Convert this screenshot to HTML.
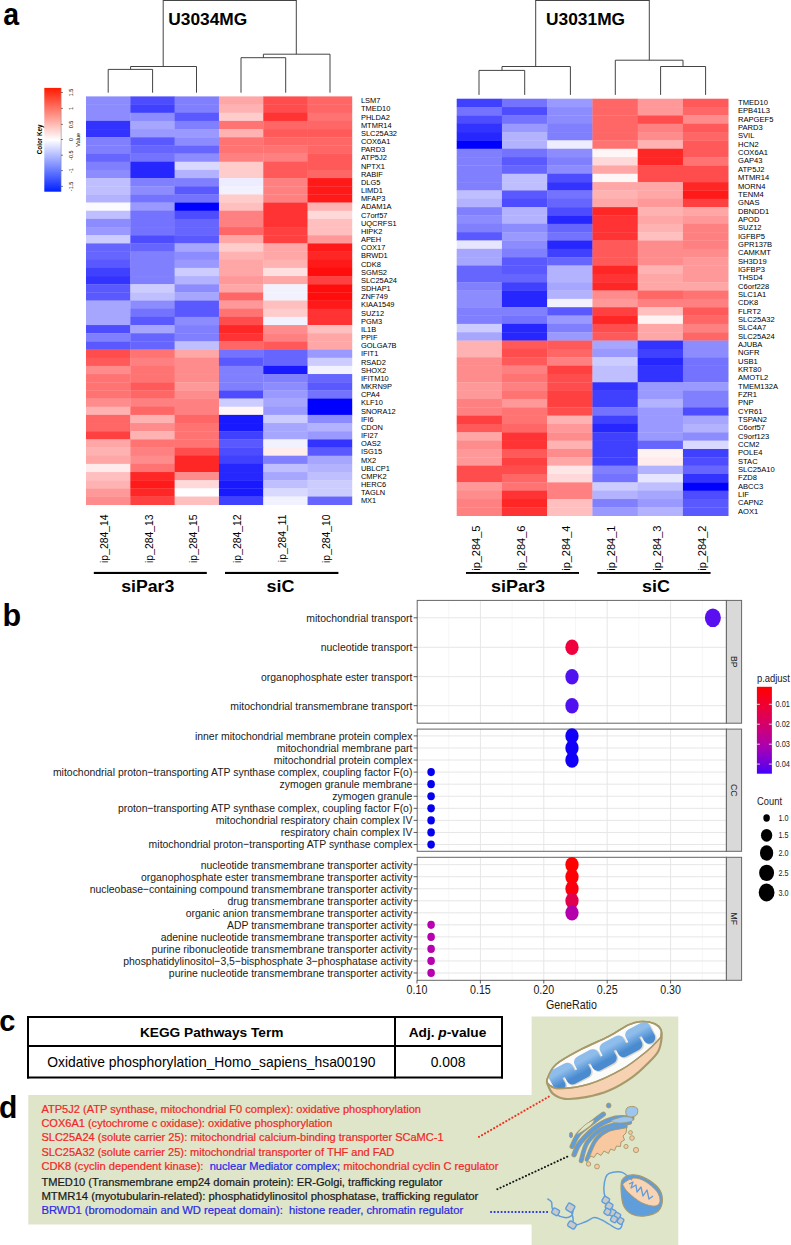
<!DOCTYPE html>
<html><head><meta charset="utf-8"><style>
html,body{margin:0;padding:0;background:#fff;width:791px;height:1245px;overflow:hidden}
svg{display:block}
text{font-family:"Liberation Sans",sans-serif}
</style></head><body>
<svg width="791" height="1245" viewBox="0 0 791 1245" font-family="Liberation Sans, sans-serif">
<text x="0" y="0" transform="translate(3.2,25) scale(0.92,1)" font-size="31" font-weight="bold">a</text>
<rect x="86.00" y="96.40" width="44.62" height="8.47" fill="rgb(140,140,255)"/>
<rect x="130.32" y="96.40" width="44.62" height="8.47" fill="rgb(77,77,255)"/>
<rect x="174.63" y="96.40" width="44.62" height="8.47" fill="rgb(128,128,255)"/>
<rect x="218.95" y="96.40" width="44.62" height="8.47" fill="rgb(255,166,166)"/>
<rect x="263.27" y="96.40" width="44.62" height="8.47" fill="rgb(255,77,77)"/>
<rect x="307.58" y="96.40" width="44.62" height="8.47" fill="rgb(255,102,102)"/>
<rect x="86.00" y="104.57" width="44.62" height="8.47" fill="rgb(140,140,255)"/>
<rect x="130.32" y="104.57" width="44.62" height="8.47" fill="rgb(64,64,255)"/>
<rect x="174.63" y="104.57" width="44.62" height="8.47" fill="rgb(128,128,255)"/>
<rect x="218.95" y="104.57" width="44.62" height="8.47" fill="rgb(255,178,178)"/>
<rect x="263.27" y="104.57" width="44.62" height="8.47" fill="rgb(255,77,77)"/>
<rect x="307.58" y="104.57" width="44.62" height="8.47" fill="rgb(255,102,102)"/>
<rect x="86.00" y="112.73" width="44.62" height="8.47" fill="rgb(140,140,255)"/>
<rect x="130.32" y="112.73" width="44.62" height="8.47" fill="rgb(140,140,255)"/>
<rect x="174.63" y="112.73" width="44.62" height="8.47" fill="rgb(89,89,255)"/>
<rect x="218.95" y="112.73" width="44.62" height="8.47" fill="rgb(255,204,204)"/>
<rect x="263.27" y="112.73" width="44.62" height="8.47" fill="rgb(255,51,51)"/>
<rect x="307.58" y="112.73" width="44.62" height="8.47" fill="rgb(255,115,115)"/>
<rect x="86.00" y="120.90" width="44.62" height="8.47" fill="rgb(51,51,255)"/>
<rect x="130.32" y="120.90" width="44.62" height="8.47" fill="rgb(166,166,255)"/>
<rect x="174.63" y="120.90" width="44.62" height="8.47" fill="rgb(128,128,255)"/>
<rect x="218.95" y="120.90" width="44.62" height="8.47" fill="rgb(255,115,115)"/>
<rect x="263.27" y="120.90" width="44.62" height="8.47" fill="rgb(255,102,102)"/>
<rect x="307.58" y="120.90" width="44.62" height="8.47" fill="rgb(255,102,102)"/>
<rect x="86.00" y="129.06" width="44.62" height="8.47" fill="rgb(51,51,255)"/>
<rect x="130.32" y="129.06" width="44.62" height="8.47" fill="rgb(153,153,255)"/>
<rect x="174.63" y="129.06" width="44.62" height="8.47" fill="rgb(153,153,255)"/>
<rect x="218.95" y="129.06" width="44.62" height="8.47" fill="rgb(255,178,178)"/>
<rect x="263.27" y="129.06" width="44.62" height="8.47" fill="rgb(255,89,89)"/>
<rect x="307.58" y="129.06" width="44.62" height="8.47" fill="rgb(255,89,89)"/>
<rect x="86.00" y="137.23" width="44.62" height="8.47" fill="rgb(128,128,255)"/>
<rect x="130.32" y="137.23" width="44.62" height="8.47" fill="rgb(89,89,255)"/>
<rect x="174.63" y="137.23" width="44.62" height="8.47" fill="rgb(140,140,255)"/>
<rect x="218.95" y="137.23" width="44.62" height="8.47" fill="rgb(255,115,115)"/>
<rect x="263.27" y="137.23" width="44.62" height="8.47" fill="rgb(255,102,102)"/>
<rect x="307.58" y="137.23" width="44.62" height="8.47" fill="rgb(255,102,102)"/>
<rect x="86.00" y="145.40" width="44.62" height="8.47" fill="rgb(128,128,255)"/>
<rect x="130.32" y="145.40" width="44.62" height="8.47" fill="rgb(102,102,255)"/>
<rect x="174.63" y="145.40" width="44.62" height="8.47" fill="rgb(102,102,255)"/>
<rect x="218.95" y="145.40" width="44.62" height="8.47" fill="rgb(255,115,115)"/>
<rect x="263.27" y="145.40" width="44.62" height="8.47" fill="rgb(255,115,115)"/>
<rect x="307.58" y="145.40" width="44.62" height="8.47" fill="rgb(255,102,102)"/>
<rect x="86.00" y="153.56" width="44.62" height="8.47" fill="rgb(102,102,255)"/>
<rect x="130.32" y="153.56" width="44.62" height="8.47" fill="rgb(115,115,255)"/>
<rect x="174.63" y="153.56" width="44.62" height="8.47" fill="rgb(140,140,255)"/>
<rect x="218.95" y="153.56" width="44.62" height="8.47" fill="rgb(255,128,128)"/>
<rect x="263.27" y="153.56" width="44.62" height="8.47" fill="rgb(255,128,128)"/>
<rect x="307.58" y="153.56" width="44.62" height="8.47" fill="rgb(255,89,89)"/>
<rect x="86.00" y="161.73" width="44.62" height="8.47" fill="rgb(128,128,255)"/>
<rect x="130.32" y="161.73" width="44.62" height="8.47" fill="rgb(38,38,255)"/>
<rect x="174.63" y="161.73" width="44.62" height="8.47" fill="rgb(217,217,255)"/>
<rect x="218.95" y="161.73" width="44.62" height="8.47" fill="rgb(255,204,204)"/>
<rect x="263.27" y="161.73" width="44.62" height="8.47" fill="rgb(255,89,89)"/>
<rect x="307.58" y="161.73" width="44.62" height="8.47" fill="rgb(255,89,89)"/>
<rect x="86.00" y="169.89" width="44.62" height="8.47" fill="rgb(140,140,255)"/>
<rect x="130.32" y="169.89" width="44.62" height="8.47" fill="rgb(38,38,255)"/>
<rect x="174.63" y="169.89" width="44.62" height="8.47" fill="rgb(178,178,255)"/>
<rect x="218.95" y="169.89" width="44.62" height="8.47" fill="rgb(255,204,204)"/>
<rect x="263.27" y="169.89" width="44.62" height="8.47" fill="rgb(255,89,89)"/>
<rect x="307.58" y="169.89" width="44.62" height="8.47" fill="rgb(255,102,102)"/>
<rect x="86.00" y="178.06" width="44.62" height="8.47" fill="rgb(191,191,255)"/>
<rect x="130.32" y="178.06" width="44.62" height="8.47" fill="rgb(128,128,255)"/>
<rect x="174.63" y="178.06" width="44.62" height="8.47" fill="rgb(128,128,255)"/>
<rect x="218.95" y="178.06" width="44.62" height="8.47" fill="rgb(237,237,255)"/>
<rect x="263.27" y="178.06" width="44.62" height="8.47" fill="rgb(255,128,128)"/>
<rect x="307.58" y="178.06" width="44.62" height="8.47" fill="rgb(255,25,25)"/>
<rect x="86.00" y="186.23" width="44.62" height="8.47" fill="rgb(191,191,255)"/>
<rect x="130.32" y="186.23" width="44.62" height="8.47" fill="rgb(140,140,255)"/>
<rect x="174.63" y="186.23" width="44.62" height="8.47" fill="rgb(89,89,255)"/>
<rect x="218.95" y="186.23" width="44.62" height="8.47" fill="rgb(242,242,255)"/>
<rect x="263.27" y="186.23" width="44.62" height="8.47" fill="rgb(255,128,128)"/>
<rect x="307.58" y="186.23" width="44.62" height="8.47" fill="rgb(255,25,25)"/>
<rect x="86.00" y="194.39" width="44.62" height="8.47" fill="rgb(178,178,255)"/>
<rect x="130.32" y="194.39" width="44.62" height="8.47" fill="rgb(115,115,255)"/>
<rect x="174.63" y="194.39" width="44.62" height="8.47" fill="rgb(115,115,255)"/>
<rect x="218.95" y="194.39" width="44.62" height="8.47" fill="rgb(255,204,204)"/>
<rect x="263.27" y="194.39" width="44.62" height="8.47" fill="rgb(255,128,128)"/>
<rect x="307.58" y="194.39" width="44.62" height="8.47" fill="rgb(255,25,25)"/>
<rect x="86.00" y="202.56" width="44.62" height="8.47" fill="rgb(250,250,255)"/>
<rect x="130.32" y="202.56" width="44.62" height="8.47" fill="rgb(153,153,255)"/>
<rect x="174.63" y="202.56" width="44.62" height="8.47" fill="rgb(0,0,255)"/>
<rect x="218.95" y="202.56" width="44.62" height="8.47" fill="rgb(255,191,191)"/>
<rect x="263.27" y="202.56" width="44.62" height="8.47" fill="rgb(255,51,51)"/>
<rect x="307.58" y="202.56" width="44.62" height="8.47" fill="rgb(255,178,178)"/>
<rect x="86.00" y="210.72" width="44.62" height="8.47" fill="rgb(191,191,255)"/>
<rect x="130.32" y="210.72" width="44.62" height="8.47" fill="rgb(115,115,255)"/>
<rect x="174.63" y="210.72" width="44.62" height="8.47" fill="rgb(77,77,255)"/>
<rect x="218.95" y="210.72" width="44.62" height="8.47" fill="rgb(255,128,128)"/>
<rect x="263.27" y="210.72" width="44.62" height="8.47" fill="rgb(255,51,51)"/>
<rect x="307.58" y="210.72" width="44.62" height="8.47" fill="rgb(255,217,217)"/>
<rect x="86.00" y="218.89" width="44.62" height="8.47" fill="rgb(140,140,255)"/>
<rect x="130.32" y="218.89" width="44.62" height="8.47" fill="rgb(115,115,255)"/>
<rect x="174.63" y="218.89" width="44.62" height="8.47" fill="rgb(102,102,255)"/>
<rect x="218.95" y="218.89" width="44.62" height="8.47" fill="rgb(255,128,128)"/>
<rect x="263.27" y="218.89" width="44.62" height="8.47" fill="rgb(255,51,51)"/>
<rect x="307.58" y="218.89" width="44.62" height="8.47" fill="rgb(255,191,191)"/>
<rect x="86.00" y="227.06" width="44.62" height="8.47" fill="rgb(153,153,255)"/>
<rect x="130.32" y="227.06" width="44.62" height="8.47" fill="rgb(115,115,255)"/>
<rect x="174.63" y="227.06" width="44.62" height="8.47" fill="rgb(102,102,255)"/>
<rect x="218.95" y="227.06" width="44.62" height="8.47" fill="rgb(255,102,102)"/>
<rect x="263.27" y="227.06" width="44.62" height="8.47" fill="rgb(255,64,64)"/>
<rect x="307.58" y="227.06" width="44.62" height="8.47" fill="rgb(255,191,191)"/>
<rect x="86.00" y="235.22" width="44.62" height="8.47" fill="rgb(204,204,255)"/>
<rect x="130.32" y="235.22" width="44.62" height="8.47" fill="rgb(77,77,255)"/>
<rect x="174.63" y="235.22" width="44.62" height="8.47" fill="rgb(89,89,255)"/>
<rect x="218.95" y="235.22" width="44.62" height="8.47" fill="rgb(255,166,166)"/>
<rect x="263.27" y="235.22" width="44.62" height="8.47" fill="rgb(255,64,64)"/>
<rect x="307.58" y="235.22" width="44.62" height="8.47" fill="rgb(255,153,153)"/>
<rect x="86.00" y="243.39" width="44.62" height="8.47" fill="rgb(102,102,255)"/>
<rect x="130.32" y="243.39" width="44.62" height="8.47" fill="rgb(102,102,255)"/>
<rect x="174.63" y="243.39" width="44.62" height="8.47" fill="rgb(166,166,255)"/>
<rect x="218.95" y="243.39" width="44.62" height="8.47" fill="rgb(255,204,204)"/>
<rect x="263.27" y="243.39" width="44.62" height="8.47" fill="rgb(255,166,166)"/>
<rect x="307.58" y="243.39" width="44.62" height="8.47" fill="rgb(255,25,25)"/>
<rect x="86.00" y="251.55" width="44.62" height="8.47" fill="rgb(102,102,255)"/>
<rect x="130.32" y="251.55" width="44.62" height="8.47" fill="rgb(128,128,255)"/>
<rect x="174.63" y="251.55" width="44.62" height="8.47" fill="rgb(140,140,255)"/>
<rect x="218.95" y="251.55" width="44.62" height="8.47" fill="rgb(255,178,178)"/>
<rect x="263.27" y="251.55" width="44.62" height="8.47" fill="rgb(255,166,166)"/>
<rect x="307.58" y="251.55" width="44.62" height="8.47" fill="rgb(255,38,38)"/>
<rect x="86.00" y="259.72" width="44.62" height="8.47" fill="rgb(89,89,255)"/>
<rect x="130.32" y="259.72" width="44.62" height="8.47" fill="rgb(128,128,255)"/>
<rect x="174.63" y="259.72" width="44.62" height="8.47" fill="rgb(153,153,255)"/>
<rect x="218.95" y="259.72" width="44.62" height="8.47" fill="rgb(255,166,166)"/>
<rect x="263.27" y="259.72" width="44.62" height="8.47" fill="rgb(255,178,178)"/>
<rect x="307.58" y="259.72" width="44.62" height="8.47" fill="rgb(255,25,25)"/>
<rect x="86.00" y="267.89" width="44.62" height="8.47" fill="rgb(64,64,255)"/>
<rect x="130.32" y="267.89" width="44.62" height="8.47" fill="rgb(128,128,255)"/>
<rect x="174.63" y="267.89" width="44.62" height="8.47" fill="rgb(204,204,255)"/>
<rect x="218.95" y="267.89" width="44.62" height="8.47" fill="rgb(255,166,166)"/>
<rect x="263.27" y="267.89" width="44.62" height="8.47" fill="rgb(255,224,224)"/>
<rect x="307.58" y="267.89" width="44.62" height="8.47" fill="rgb(255,13,13)"/>
<rect x="86.00" y="276.05" width="44.62" height="8.47" fill="rgb(51,51,255)"/>
<rect x="130.32" y="276.05" width="44.62" height="8.47" fill="rgb(128,128,255)"/>
<rect x="174.63" y="276.05" width="44.62" height="8.47" fill="rgb(178,178,255)"/>
<rect x="218.95" y="276.05" width="44.62" height="8.47" fill="rgb(255,153,153)"/>
<rect x="263.27" y="276.05" width="44.62" height="8.47" fill="rgb(255,166,166)"/>
<rect x="307.58" y="276.05" width="44.62" height="8.47" fill="rgb(255,64,64)"/>
<rect x="86.00" y="284.22" width="44.62" height="8.47" fill="rgb(89,89,255)"/>
<rect x="130.32" y="284.22" width="44.62" height="8.47" fill="rgb(204,204,255)"/>
<rect x="174.63" y="284.22" width="44.62" height="8.47" fill="rgb(140,140,255)"/>
<rect x="218.95" y="284.22" width="44.62" height="8.47" fill="rgb(255,166,166)"/>
<rect x="263.27" y="284.22" width="44.62" height="8.47" fill="rgb(242,242,255)"/>
<rect x="307.58" y="284.22" width="44.62" height="8.47" fill="rgb(255,13,13)"/>
<rect x="86.00" y="292.38" width="44.62" height="8.47" fill="rgb(89,89,255)"/>
<rect x="130.32" y="292.38" width="44.62" height="8.47" fill="rgb(191,191,255)"/>
<rect x="174.63" y="292.38" width="44.62" height="8.47" fill="rgb(166,166,255)"/>
<rect x="218.95" y="292.38" width="44.62" height="8.47" fill="rgb(255,102,102)"/>
<rect x="263.27" y="292.38" width="44.62" height="8.47" fill="rgb(242,242,255)"/>
<rect x="307.58" y="292.38" width="44.62" height="8.47" fill="rgb(255,13,13)"/>
<rect x="86.00" y="300.55" width="44.62" height="8.47" fill="rgb(166,166,255)"/>
<rect x="130.32" y="300.55" width="44.62" height="8.47" fill="rgb(140,140,255)"/>
<rect x="174.63" y="300.55" width="44.62" height="8.47" fill="rgb(89,89,255)"/>
<rect x="218.95" y="300.55" width="44.62" height="8.47" fill="rgb(255,153,153)"/>
<rect x="263.27" y="300.55" width="44.62" height="8.47" fill="rgb(255,191,191)"/>
<rect x="307.58" y="300.55" width="44.62" height="8.47" fill="rgb(255,25,25)"/>
<rect x="86.00" y="308.72" width="44.62" height="8.47" fill="rgb(166,166,255)"/>
<rect x="130.32" y="308.72" width="44.62" height="8.47" fill="rgb(115,115,255)"/>
<rect x="174.63" y="308.72" width="44.62" height="8.47" fill="rgb(89,89,255)"/>
<rect x="218.95" y="308.72" width="44.62" height="8.47" fill="rgb(255,115,115)"/>
<rect x="263.27" y="308.72" width="44.62" height="8.47" fill="rgb(255,204,204)"/>
<rect x="307.58" y="308.72" width="44.62" height="8.47" fill="rgb(255,51,51)"/>
<rect x="86.00" y="316.88" width="44.62" height="8.47" fill="rgb(166,166,255)"/>
<rect x="130.32" y="316.88" width="44.62" height="8.47" fill="rgb(89,89,255)"/>
<rect x="174.63" y="316.88" width="44.62" height="8.47" fill="rgb(140,140,255)"/>
<rect x="218.95" y="316.88" width="44.62" height="8.47" fill="rgb(255,77,77)"/>
<rect x="263.27" y="316.88" width="44.62" height="8.47" fill="rgb(242,242,255)"/>
<rect x="307.58" y="316.88" width="44.62" height="8.47" fill="rgb(255,51,51)"/>
<rect x="86.00" y="325.05" width="44.62" height="8.47" fill="rgb(77,77,255)"/>
<rect x="130.32" y="325.05" width="44.62" height="8.47" fill="rgb(166,166,255)"/>
<rect x="174.63" y="325.05" width="44.62" height="8.47" fill="rgb(128,128,255)"/>
<rect x="218.95" y="325.05" width="44.62" height="8.47" fill="rgb(255,38,38)"/>
<rect x="263.27" y="325.05" width="44.62" height="8.47" fill="rgb(255,140,140)"/>
<rect x="307.58" y="325.05" width="44.62" height="8.47" fill="rgb(255,191,191)"/>
<rect x="86.00" y="333.21" width="44.62" height="8.47" fill="rgb(128,128,255)"/>
<rect x="130.32" y="333.21" width="44.62" height="8.47" fill="rgb(102,102,255)"/>
<rect x="174.63" y="333.21" width="44.62" height="8.47" fill="rgb(128,128,255)"/>
<rect x="218.95" y="333.21" width="44.62" height="8.47" fill="rgb(255,51,51)"/>
<rect x="263.27" y="333.21" width="44.62" height="8.47" fill="rgb(255,128,128)"/>
<rect x="307.58" y="333.21" width="44.62" height="8.47" fill="rgb(255,166,166)"/>
<rect x="86.00" y="341.38" width="44.62" height="8.47" fill="rgb(89,89,255)"/>
<rect x="130.32" y="341.38" width="44.62" height="8.47" fill="rgb(102,102,255)"/>
<rect x="174.63" y="341.38" width="44.62" height="8.47" fill="rgb(191,191,255)"/>
<rect x="218.95" y="341.38" width="44.62" height="8.47" fill="rgb(255,102,102)"/>
<rect x="263.27" y="341.38" width="44.62" height="8.47" fill="rgb(255,89,89)"/>
<rect x="307.58" y="341.38" width="44.62" height="8.47" fill="rgb(255,166,166)"/>
<rect x="86.00" y="349.55" width="44.62" height="8.47" fill="rgb(255,77,77)"/>
<rect x="130.32" y="349.55" width="44.62" height="8.47" fill="rgb(255,115,115)"/>
<rect x="174.63" y="349.55" width="44.62" height="8.47" fill="rgb(255,166,166)"/>
<rect x="218.95" y="349.55" width="44.62" height="8.47" fill="rgb(115,115,255)"/>
<rect x="263.27" y="349.55" width="44.62" height="8.47" fill="rgb(102,102,255)"/>
<rect x="307.58" y="349.55" width="44.62" height="8.47" fill="rgb(153,153,255)"/>
<rect x="86.00" y="357.71" width="44.62" height="8.47" fill="rgb(255,89,89)"/>
<rect x="130.32" y="357.71" width="44.62" height="8.47" fill="rgb(255,128,128)"/>
<rect x="174.63" y="357.71" width="44.62" height="8.47" fill="rgb(255,140,140)"/>
<rect x="218.95" y="357.71" width="44.62" height="8.47" fill="rgb(89,89,255)"/>
<rect x="263.27" y="357.71" width="44.62" height="8.47" fill="rgb(102,102,255)"/>
<rect x="307.58" y="357.71" width="44.62" height="8.47" fill="rgb(204,204,255)"/>
<rect x="86.00" y="365.88" width="44.62" height="8.47" fill="rgb(255,140,140)"/>
<rect x="130.32" y="365.88" width="44.62" height="8.47" fill="rgb(255,115,115)"/>
<rect x="174.63" y="365.88" width="44.62" height="8.47" fill="rgb(255,140,140)"/>
<rect x="218.95" y="365.88" width="44.62" height="8.47" fill="rgb(128,128,255)"/>
<rect x="263.27" y="365.88" width="44.62" height="8.47" fill="rgb(25,25,255)"/>
<rect x="307.58" y="365.88" width="44.62" height="8.47" fill="rgb(242,242,255)"/>
<rect x="86.00" y="374.04" width="44.62" height="8.47" fill="rgb(255,115,115)"/>
<rect x="130.32" y="374.04" width="44.62" height="8.47" fill="rgb(255,115,115)"/>
<rect x="174.63" y="374.04" width="44.62" height="8.47" fill="rgb(255,140,140)"/>
<rect x="218.95" y="374.04" width="44.62" height="8.47" fill="rgb(128,128,255)"/>
<rect x="263.27" y="374.04" width="44.62" height="8.47" fill="rgb(128,128,255)"/>
<rect x="307.58" y="374.04" width="44.62" height="8.47" fill="rgb(102,102,255)"/>
<rect x="86.00" y="382.21" width="44.62" height="8.47" fill="rgb(255,115,115)"/>
<rect x="130.32" y="382.21" width="44.62" height="8.47" fill="rgb(255,89,89)"/>
<rect x="174.63" y="382.21" width="44.62" height="8.47" fill="rgb(255,153,153)"/>
<rect x="218.95" y="382.21" width="44.62" height="8.47" fill="rgb(128,128,255)"/>
<rect x="263.27" y="382.21" width="44.62" height="8.47" fill="rgb(140,140,255)"/>
<rect x="307.58" y="382.21" width="44.62" height="8.47" fill="rgb(89,89,255)"/>
<rect x="86.00" y="390.38" width="44.62" height="8.47" fill="rgb(255,115,115)"/>
<rect x="130.32" y="390.38" width="44.62" height="8.47" fill="rgb(255,102,102)"/>
<rect x="174.63" y="390.38" width="44.62" height="8.47" fill="rgb(255,140,140)"/>
<rect x="218.95" y="390.38" width="44.62" height="8.47" fill="rgb(77,77,255)"/>
<rect x="263.27" y="390.38" width="44.62" height="8.47" fill="rgb(153,153,255)"/>
<rect x="307.58" y="390.38" width="44.62" height="8.47" fill="rgb(115,115,255)"/>
<rect x="86.00" y="398.54" width="44.62" height="8.47" fill="rgb(255,140,140)"/>
<rect x="130.32" y="398.54" width="44.62" height="8.47" fill="rgb(255,128,128)"/>
<rect x="174.63" y="398.54" width="44.62" height="8.47" fill="rgb(255,128,128)"/>
<rect x="218.95" y="398.54" width="44.62" height="8.47" fill="rgb(204,204,255)"/>
<rect x="263.27" y="398.54" width="44.62" height="8.47" fill="rgb(166,166,255)"/>
<rect x="307.58" y="398.54" width="44.62" height="8.47" fill="rgb(0,0,255)"/>
<rect x="86.00" y="406.71" width="44.62" height="8.47" fill="rgb(255,178,178)"/>
<rect x="130.32" y="406.71" width="44.62" height="8.47" fill="rgb(255,102,102)"/>
<rect x="174.63" y="406.71" width="44.62" height="8.47" fill="rgb(255,128,128)"/>
<rect x="218.95" y="406.71" width="44.62" height="8.47" fill="rgb(255,247,247)"/>
<rect x="263.27" y="406.71" width="44.62" height="8.47" fill="rgb(153,153,255)"/>
<rect x="307.58" y="406.71" width="44.62" height="8.47" fill="rgb(0,0,255)"/>
<rect x="86.00" y="414.87" width="44.62" height="8.47" fill="rgb(255,102,102)"/>
<rect x="130.32" y="414.87" width="44.62" height="8.47" fill="rgb(255,178,178)"/>
<rect x="174.63" y="414.87" width="44.62" height="8.47" fill="rgb(255,102,102)"/>
<rect x="218.95" y="414.87" width="44.62" height="8.47" fill="rgb(25,25,255)"/>
<rect x="263.27" y="414.87" width="44.62" height="8.47" fill="rgb(204,204,255)"/>
<rect x="307.58" y="414.87" width="44.62" height="8.47" fill="rgb(140,140,255)"/>
<rect x="86.00" y="423.04" width="44.62" height="8.47" fill="rgb(255,102,102)"/>
<rect x="130.32" y="423.04" width="44.62" height="8.47" fill="rgb(255,140,140)"/>
<rect x="174.63" y="423.04" width="44.62" height="8.47" fill="rgb(255,115,115)"/>
<rect x="218.95" y="423.04" width="44.62" height="8.47" fill="rgb(25,25,255)"/>
<rect x="263.27" y="423.04" width="44.62" height="8.47" fill="rgb(166,166,255)"/>
<rect x="307.58" y="423.04" width="44.62" height="8.47" fill="rgb(178,178,255)"/>
<rect x="86.00" y="431.21" width="44.62" height="8.47" fill="rgb(255,64,64)"/>
<rect x="130.32" y="431.21" width="44.62" height="8.47" fill="rgb(255,178,178)"/>
<rect x="174.63" y="431.21" width="44.62" height="8.47" fill="rgb(255,115,115)"/>
<rect x="218.95" y="431.21" width="44.62" height="8.47" fill="rgb(64,64,255)"/>
<rect x="263.27" y="431.21" width="44.62" height="8.47" fill="rgb(166,166,255)"/>
<rect x="307.58" y="431.21" width="44.62" height="8.47" fill="rgb(153,153,255)"/>
<rect x="86.00" y="439.37" width="44.62" height="8.47" fill="rgb(255,166,166)"/>
<rect x="130.32" y="439.37" width="44.62" height="8.47" fill="rgb(255,115,115)"/>
<rect x="174.63" y="439.37" width="44.62" height="8.47" fill="rgb(255,115,115)"/>
<rect x="218.95" y="439.37" width="44.62" height="8.47" fill="rgb(89,89,255)"/>
<rect x="263.27" y="439.37" width="44.62" height="8.47" fill="rgb(242,242,255)"/>
<rect x="307.58" y="439.37" width="44.62" height="8.47" fill="rgb(51,51,255)"/>
<rect x="86.00" y="447.54" width="44.62" height="8.47" fill="rgb(255,178,178)"/>
<rect x="130.32" y="447.54" width="44.62" height="8.47" fill="rgb(255,128,128)"/>
<rect x="174.63" y="447.54" width="44.62" height="8.47" fill="rgb(255,77,77)"/>
<rect x="218.95" y="447.54" width="44.62" height="8.47" fill="rgb(77,77,255)"/>
<rect x="263.27" y="447.54" width="44.62" height="8.47" fill="rgb(255,237,237)"/>
<rect x="307.58" y="447.54" width="44.62" height="8.47" fill="rgb(89,89,255)"/>
<rect x="86.00" y="455.70" width="44.62" height="8.47" fill="rgb(255,166,166)"/>
<rect x="130.32" y="455.70" width="44.62" height="8.47" fill="rgb(255,140,140)"/>
<rect x="174.63" y="455.70" width="44.62" height="8.47" fill="rgb(255,38,38)"/>
<rect x="218.95" y="455.70" width="44.62" height="8.47" fill="rgb(64,64,255)"/>
<rect x="263.27" y="455.70" width="44.62" height="8.47" fill="rgb(128,128,255)"/>
<rect x="307.58" y="455.70" width="44.62" height="8.47" fill="rgb(166,166,255)"/>
<rect x="86.00" y="463.87" width="44.62" height="8.47" fill="rgb(255,235,235)"/>
<rect x="130.32" y="463.87" width="44.62" height="8.47" fill="rgb(255,115,115)"/>
<rect x="174.63" y="463.87" width="44.62" height="8.47" fill="rgb(255,38,38)"/>
<rect x="218.95" y="463.87" width="44.62" height="8.47" fill="rgb(38,38,255)"/>
<rect x="263.27" y="463.87" width="44.62" height="8.47" fill="rgb(191,191,255)"/>
<rect x="307.58" y="463.87" width="44.62" height="8.47" fill="rgb(178,178,255)"/>
<rect x="86.00" y="472.04" width="44.62" height="8.47" fill="rgb(255,191,191)"/>
<rect x="130.32" y="472.04" width="44.62" height="8.47" fill="rgb(255,38,38)"/>
<rect x="174.63" y="472.04" width="44.62" height="8.47" fill="rgb(255,140,140)"/>
<rect x="218.95" y="472.04" width="44.62" height="8.47" fill="rgb(38,38,255)"/>
<rect x="263.27" y="472.04" width="44.62" height="8.47" fill="rgb(166,166,255)"/>
<rect x="307.58" y="472.04" width="44.62" height="8.47" fill="rgb(191,191,255)"/>
<rect x="86.00" y="480.20" width="44.62" height="8.47" fill="rgb(255,178,178)"/>
<rect x="130.32" y="480.20" width="44.62" height="8.47" fill="rgb(255,25,25)"/>
<rect x="174.63" y="480.20" width="44.62" height="8.47" fill="rgb(255,217,217)"/>
<rect x="218.95" y="480.20" width="44.62" height="8.47" fill="rgb(25,25,255)"/>
<rect x="263.27" y="480.20" width="44.62" height="8.47" fill="rgb(191,191,255)"/>
<rect x="307.58" y="480.20" width="44.62" height="8.47" fill="rgb(204,204,255)"/>
<rect x="86.00" y="488.37" width="44.62" height="8.47" fill="rgb(255,153,153)"/>
<rect x="130.32" y="488.37" width="44.62" height="8.47" fill="rgb(255,38,38)"/>
<rect x="174.63" y="488.37" width="44.62" height="8.47" fill="rgb(255,255,255)"/>
<rect x="218.95" y="488.37" width="44.62" height="8.47" fill="rgb(25,25,255)"/>
<rect x="263.27" y="488.37" width="44.62" height="8.47" fill="rgb(217,217,255)"/>
<rect x="307.58" y="488.37" width="44.62" height="8.47" fill="rgb(204,204,255)"/>
<rect x="86.00" y="496.53" width="44.62" height="8.47" fill="rgb(255,140,140)"/>
<rect x="130.32" y="496.53" width="44.62" height="8.47" fill="rgb(255,64,64)"/>
<rect x="174.63" y="496.53" width="44.62" height="8.47" fill="rgb(255,191,191)"/>
<rect x="218.95" y="496.53" width="44.62" height="8.47" fill="rgb(64,64,255)"/>
<rect x="263.27" y="496.53" width="44.62" height="8.47" fill="rgb(242,242,255)"/>
<rect x="307.58" y="496.53" width="44.62" height="8.47" fill="rgb(102,102,255)"/>
<text x="0" y="0" transform="translate(360.90,103.24) scale(0.97,1)" font-size="7.7">LSM7</text>
<text x="0" y="0" transform="translate(360.90,111.41) scale(0.97,1)" font-size="7.7">TMED10</text>
<text x="0" y="0" transform="translate(360.90,119.57) scale(0.97,1)" font-size="7.7">PHLDA2</text>
<text x="0" y="0" transform="translate(360.90,127.74) scale(0.97,1)" font-size="7.7">MTMR14</text>
<text x="0" y="0" transform="translate(360.90,135.90) scale(0.97,1)" font-size="7.7">SLC25A32</text>
<text x="0" y="0" transform="translate(360.90,144.07) scale(0.97,1)" font-size="7.7">COX6A1</text>
<text x="0" y="0" transform="translate(360.90,152.24) scale(0.97,1)" font-size="7.7">PARD3</text>
<text x="0" y="0" transform="translate(360.90,160.40) scale(0.97,1)" font-size="7.7">ATP5J2</text>
<text x="0" y="0" transform="translate(360.90,168.57) scale(0.97,1)" font-size="7.7">NPTX1</text>
<text x="0" y="0" transform="translate(360.90,176.73) scale(0.97,1)" font-size="7.7">RABIF</text>
<text x="0" y="0" transform="translate(360.90,184.90) scale(0.97,1)" font-size="7.7">DLG5</text>
<text x="0" y="0" transform="translate(360.90,193.07) scale(0.97,1)" font-size="7.7">LIMD1</text>
<text x="0" y="0" transform="translate(360.90,201.23) scale(0.97,1)" font-size="7.7">MFAP3</text>
<text x="0" y="0" transform="translate(360.90,209.40) scale(0.97,1)" font-size="7.7">ADAM1A</text>
<text x="0" y="0" transform="translate(360.90,217.56) scale(0.97,1)" font-size="7.7">C7orf57</text>
<text x="0" y="0" transform="translate(360.90,225.73) scale(0.97,1)" font-size="7.7">UQCRFS1</text>
<text x="0" y="0" transform="translate(360.90,233.90) scale(0.97,1)" font-size="7.7">HIPK2</text>
<text x="0" y="0" transform="translate(360.90,242.06) scale(0.97,1)" font-size="7.7">APEH</text>
<text x="0" y="0" transform="translate(360.90,250.23) scale(0.97,1)" font-size="7.7">COX17</text>
<text x="0" y="0" transform="translate(360.90,258.39) scale(0.97,1)" font-size="7.7">BRWD1</text>
<text x="0" y="0" transform="translate(360.90,266.56) scale(0.97,1)" font-size="7.7">CDK8</text>
<text x="0" y="0" transform="translate(360.90,274.73) scale(0.97,1)" font-size="7.7">SGMS2</text>
<text x="0" y="0" transform="translate(360.90,282.89) scale(0.97,1)" font-size="7.7">SLC25A24</text>
<text x="0" y="0" transform="translate(360.90,291.06) scale(0.97,1)" font-size="7.7">SDHAP1</text>
<text x="0" y="0" transform="translate(360.90,299.22) scale(0.97,1)" font-size="7.7">ZNF749</text>
<text x="0" y="0" transform="translate(360.90,307.39) scale(0.97,1)" font-size="7.7">KIAA1549</text>
<text x="0" y="0" transform="translate(360.90,315.56) scale(0.97,1)" font-size="7.7">SUZ12</text>
<text x="0" y="0" transform="translate(360.90,323.72) scale(0.97,1)" font-size="7.7">PGM3</text>
<text x="0" y="0" transform="translate(360.90,331.89) scale(0.97,1)" font-size="7.7">IL1B</text>
<text x="0" y="0" transform="translate(360.90,340.05) scale(0.97,1)" font-size="7.7">PPIF</text>
<text x="0" y="0" transform="translate(360.90,348.22) scale(0.97,1)" font-size="7.7">GOLGA7B</text>
<text x="0" y="0" transform="translate(360.90,356.39) scale(0.97,1)" font-size="7.7">IFIT1</text>
<text x="0" y="0" transform="translate(360.90,364.55) scale(0.97,1)" font-size="7.7">RSAD2</text>
<text x="0" y="0" transform="translate(360.90,372.72) scale(0.97,1)" font-size="7.7">SHOX2</text>
<text x="0" y="0" transform="translate(360.90,380.88) scale(0.97,1)" font-size="7.7">IFITM10</text>
<text x="0" y="0" transform="translate(360.90,389.05) scale(0.97,1)" font-size="7.7">MKRN9P</text>
<text x="0" y="0" transform="translate(360.90,397.22) scale(0.97,1)" font-size="7.7">CPA4</text>
<text x="0" y="0" transform="translate(360.90,405.38) scale(0.97,1)" font-size="7.7">KLF10</text>
<text x="0" y="0" transform="translate(360.90,413.55) scale(0.97,1)" font-size="7.7">SNORA12</text>
<text x="0" y="0" transform="translate(360.90,421.71) scale(0.97,1)" font-size="7.7">IFI6</text>
<text x="0" y="0" transform="translate(360.90,429.88) scale(0.97,1)" font-size="7.7">CDON</text>
<text x="0" y="0" transform="translate(360.90,438.05) scale(0.97,1)" font-size="7.7">IFI27</text>
<text x="0" y="0" transform="translate(360.90,446.21) scale(0.97,1)" font-size="7.7">OAS2</text>
<text x="0" y="0" transform="translate(360.90,454.38) scale(0.97,1)" font-size="7.7">ISG15</text>
<text x="0" y="0" transform="translate(360.90,462.54) scale(0.97,1)" font-size="7.7">MX2</text>
<text x="0" y="0" transform="translate(360.90,470.71) scale(0.97,1)" font-size="7.7">UBLCP1</text>
<text x="0" y="0" transform="translate(360.90,478.88) scale(0.97,1)" font-size="7.7">CMPK2</text>
<text x="0" y="0" transform="translate(360.90,487.04) scale(0.97,1)" font-size="7.7">HERC6</text>
<text x="0" y="0" transform="translate(360.90,495.21) scale(0.97,1)" font-size="7.7">TAGLN</text>
<text x="0" y="0" transform="translate(360.90,503.37) scale(0.97,1)" font-size="7.7">MX1</text>
<rect x="456.70" y="98.70" width="45.55" height="8.64" fill="rgb(64,64,255)"/>
<rect x="501.95" y="98.70" width="45.55" height="8.64" fill="rgb(115,115,255)"/>
<rect x="547.20" y="98.70" width="45.55" height="8.64" fill="rgb(153,153,255)"/>
<rect x="592.45" y="98.70" width="45.55" height="8.64" fill="rgb(255,102,102)"/>
<rect x="637.70" y="98.70" width="45.55" height="8.64" fill="rgb(255,153,153)"/>
<rect x="682.95" y="98.70" width="45.55" height="8.64" fill="rgb(255,89,89)"/>
<rect x="456.70" y="107.04" width="45.55" height="8.64" fill="rgb(115,115,255)"/>
<rect x="501.95" y="107.04" width="45.55" height="8.64" fill="rgb(77,77,255)"/>
<rect x="547.20" y="107.04" width="45.55" height="8.64" fill="rgb(140,140,255)"/>
<rect x="592.45" y="107.04" width="45.55" height="8.64" fill="rgb(255,102,102)"/>
<rect x="637.70" y="107.04" width="45.55" height="8.64" fill="rgb(255,153,153)"/>
<rect x="682.95" y="107.04" width="45.55" height="8.64" fill="rgb(255,102,102)"/>
<rect x="456.70" y="115.38" width="45.55" height="8.64" fill="rgb(77,77,255)"/>
<rect x="501.95" y="115.38" width="45.55" height="8.64" fill="rgb(115,115,255)"/>
<rect x="547.20" y="115.38" width="45.55" height="8.64" fill="rgb(140,140,255)"/>
<rect x="592.45" y="115.38" width="45.55" height="8.64" fill="rgb(255,102,102)"/>
<rect x="637.70" y="115.38" width="45.55" height="8.64" fill="rgb(255,77,77)"/>
<rect x="682.95" y="115.38" width="45.55" height="8.64" fill="rgb(255,140,140)"/>
<rect x="456.70" y="123.72" width="45.55" height="8.64" fill="rgb(51,51,255)"/>
<rect x="501.95" y="123.72" width="45.55" height="8.64" fill="rgb(153,153,255)"/>
<rect x="547.20" y="123.72" width="45.55" height="8.64" fill="rgb(128,128,255)"/>
<rect x="592.45" y="123.72" width="45.55" height="8.64" fill="rgb(255,102,102)"/>
<rect x="637.70" y="123.72" width="45.55" height="8.64" fill="rgb(255,128,128)"/>
<rect x="682.95" y="123.72" width="45.55" height="8.64" fill="rgb(255,89,89)"/>
<rect x="456.70" y="132.06" width="45.55" height="8.64" fill="rgb(38,38,255)"/>
<rect x="501.95" y="132.06" width="45.55" height="8.64" fill="rgb(178,178,255)"/>
<rect x="547.20" y="132.06" width="45.55" height="8.64" fill="rgb(128,128,255)"/>
<rect x="592.45" y="132.06" width="45.55" height="8.64" fill="rgb(255,102,102)"/>
<rect x="637.70" y="132.06" width="45.55" height="8.64" fill="rgb(255,140,140)"/>
<rect x="682.95" y="132.06" width="45.55" height="8.64" fill="rgb(255,102,102)"/>
<rect x="456.70" y="140.40" width="45.55" height="8.64" fill="rgb(0,0,255)"/>
<rect x="501.95" y="140.40" width="45.55" height="8.64" fill="rgb(178,178,255)"/>
<rect x="547.20" y="140.40" width="45.55" height="8.64" fill="rgb(237,237,255)"/>
<rect x="592.45" y="140.40" width="45.55" height="8.64" fill="rgb(255,115,115)"/>
<rect x="637.70" y="140.40" width="45.55" height="8.64" fill="rgb(255,178,178)"/>
<rect x="682.95" y="140.40" width="45.55" height="8.64" fill="rgb(255,89,89)"/>
<rect x="456.70" y="148.74" width="45.55" height="8.64" fill="rgb(128,128,255)"/>
<rect x="501.95" y="148.74" width="45.55" height="8.64" fill="rgb(115,115,255)"/>
<rect x="547.20" y="148.74" width="45.55" height="8.64" fill="rgb(140,140,255)"/>
<rect x="592.45" y="148.74" width="45.55" height="8.64" fill="rgb(255,247,247)"/>
<rect x="637.70" y="148.74" width="45.55" height="8.64" fill="rgb(255,38,38)"/>
<rect x="682.95" y="148.74" width="45.55" height="8.64" fill="rgb(255,89,89)"/>
<rect x="456.70" y="157.08" width="45.55" height="8.64" fill="rgb(128,128,255)"/>
<rect x="501.95" y="157.08" width="45.55" height="8.64" fill="rgb(89,89,255)"/>
<rect x="547.20" y="157.08" width="45.55" height="8.64" fill="rgb(128,128,255)"/>
<rect x="592.45" y="157.08" width="45.55" height="8.64" fill="rgb(255,217,217)"/>
<rect x="637.70" y="157.08" width="45.55" height="8.64" fill="rgb(255,38,38)"/>
<rect x="682.95" y="157.08" width="45.55" height="8.64" fill="rgb(255,115,115)"/>
<rect x="456.70" y="165.42" width="45.55" height="8.64" fill="rgb(128,128,255)"/>
<rect x="501.95" y="165.42" width="45.55" height="8.64" fill="rgb(102,102,255)"/>
<rect x="547.20" y="165.42" width="45.55" height="8.64" fill="rgb(140,140,255)"/>
<rect x="592.45" y="165.42" width="45.55" height="8.64" fill="rgb(255,166,166)"/>
<rect x="637.70" y="165.42" width="45.55" height="8.64" fill="rgb(255,77,77)"/>
<rect x="682.95" y="165.42" width="45.55" height="8.64" fill="rgb(255,77,77)"/>
<rect x="456.70" y="173.76" width="45.55" height="8.64" fill="rgb(128,128,255)"/>
<rect x="501.95" y="173.76" width="45.55" height="8.64" fill="rgb(191,191,255)"/>
<rect x="547.20" y="173.76" width="45.55" height="8.64" fill="rgb(77,77,255)"/>
<rect x="592.45" y="173.76" width="45.55" height="8.64" fill="rgb(255,247,247)"/>
<rect x="637.70" y="173.76" width="45.55" height="8.64" fill="rgb(255,77,77)"/>
<rect x="682.95" y="173.76" width="45.55" height="8.64" fill="rgb(255,77,77)"/>
<rect x="456.70" y="182.10" width="45.55" height="8.64" fill="rgb(128,128,255)"/>
<rect x="501.95" y="182.10" width="45.55" height="8.64" fill="rgb(191,191,255)"/>
<rect x="547.20" y="182.10" width="45.55" height="8.64" fill="rgb(51,51,255)"/>
<rect x="592.45" y="182.10" width="45.55" height="8.64" fill="rgb(255,166,166)"/>
<rect x="637.70" y="182.10" width="45.55" height="8.64" fill="rgb(255,166,166)"/>
<rect x="682.95" y="182.10" width="45.55" height="8.64" fill="rgb(255,38,38)"/>
<rect x="456.70" y="190.44" width="45.55" height="8.64" fill="rgb(191,191,255)"/>
<rect x="501.95" y="190.44" width="45.55" height="8.64" fill="rgb(89,89,255)"/>
<rect x="547.20" y="190.44" width="45.55" height="8.64" fill="rgb(115,115,255)"/>
<rect x="592.45" y="190.44" width="45.55" height="8.64" fill="rgb(255,178,178)"/>
<rect x="637.70" y="190.44" width="45.55" height="8.64" fill="rgb(255,166,166)"/>
<rect x="682.95" y="190.44" width="45.55" height="8.64" fill="rgb(255,25,25)"/>
<rect x="456.70" y="198.78" width="45.55" height="8.64" fill="rgb(178,178,255)"/>
<rect x="501.95" y="198.78" width="45.55" height="8.64" fill="rgb(77,77,255)"/>
<rect x="547.20" y="198.78" width="45.55" height="8.64" fill="rgb(102,102,255)"/>
<rect x="592.45" y="198.78" width="45.55" height="8.64" fill="rgb(255,166,166)"/>
<rect x="637.70" y="198.78" width="45.55" height="8.64" fill="rgb(255,153,153)"/>
<rect x="682.95" y="198.78" width="45.55" height="8.64" fill="rgb(255,64,64)"/>
<rect x="456.70" y="207.12" width="45.55" height="8.64" fill="rgb(128,128,255)"/>
<rect x="501.95" y="207.12" width="45.55" height="8.64" fill="rgb(178,178,255)"/>
<rect x="547.20" y="207.12" width="45.55" height="8.64" fill="rgb(77,77,255)"/>
<rect x="592.45" y="207.12" width="45.55" height="8.64" fill="rgb(255,38,38)"/>
<rect x="637.70" y="207.12" width="45.55" height="8.64" fill="rgb(255,178,178)"/>
<rect x="682.95" y="207.12" width="45.55" height="8.64" fill="rgb(255,166,166)"/>
<rect x="456.70" y="215.46" width="45.55" height="8.64" fill="rgb(140,140,255)"/>
<rect x="501.95" y="215.46" width="45.55" height="8.64" fill="rgb(178,178,255)"/>
<rect x="547.20" y="215.46" width="45.55" height="8.64" fill="rgb(38,38,255)"/>
<rect x="592.45" y="215.46" width="45.55" height="8.64" fill="rgb(255,51,51)"/>
<rect x="637.70" y="215.46" width="45.55" height="8.64" fill="rgb(255,166,166)"/>
<rect x="682.95" y="215.46" width="45.55" height="8.64" fill="rgb(255,153,153)"/>
<rect x="456.70" y="223.80" width="45.55" height="8.64" fill="rgb(128,128,255)"/>
<rect x="501.95" y="223.80" width="45.55" height="8.64" fill="rgb(140,140,255)"/>
<rect x="547.20" y="223.80" width="45.55" height="8.64" fill="rgb(102,102,255)"/>
<rect x="592.45" y="223.80" width="45.55" height="8.64" fill="rgb(255,51,51)"/>
<rect x="637.70" y="223.80" width="45.55" height="8.64" fill="rgb(255,178,178)"/>
<rect x="682.95" y="223.80" width="45.55" height="8.64" fill="rgb(255,128,128)"/>
<rect x="456.70" y="232.14" width="45.55" height="8.64" fill="rgb(89,89,255)"/>
<rect x="501.95" y="232.14" width="45.55" height="8.64" fill="rgb(153,153,255)"/>
<rect x="547.20" y="232.14" width="45.55" height="8.64" fill="rgb(115,115,255)"/>
<rect x="592.45" y="232.14" width="45.55" height="8.64" fill="rgb(255,51,51)"/>
<rect x="637.70" y="232.14" width="45.55" height="8.64" fill="rgb(255,191,191)"/>
<rect x="682.95" y="232.14" width="45.55" height="8.64" fill="rgb(255,128,128)"/>
<rect x="456.70" y="240.48" width="45.55" height="8.64" fill="rgb(230,230,255)"/>
<rect x="501.95" y="240.48" width="45.55" height="8.64" fill="rgb(140,140,255)"/>
<rect x="547.20" y="240.48" width="45.55" height="8.64" fill="rgb(38,38,255)"/>
<rect x="592.45" y="240.48" width="45.55" height="8.64" fill="rgb(255,89,89)"/>
<rect x="637.70" y="240.48" width="45.55" height="8.64" fill="rgb(255,140,140)"/>
<rect x="682.95" y="240.48" width="45.55" height="8.64" fill="rgb(255,128,128)"/>
<rect x="456.70" y="248.82" width="45.55" height="8.64" fill="rgb(166,166,255)"/>
<rect x="501.95" y="248.82" width="45.55" height="8.64" fill="rgb(128,128,255)"/>
<rect x="547.20" y="248.82" width="45.55" height="8.64" fill="rgb(64,64,255)"/>
<rect x="592.45" y="248.82" width="45.55" height="8.64" fill="rgb(255,89,89)"/>
<rect x="637.70" y="248.82" width="45.55" height="8.64" fill="rgb(255,140,140)"/>
<rect x="682.95" y="248.82" width="45.55" height="8.64" fill="rgb(255,140,140)"/>
<rect x="456.70" y="257.16" width="45.55" height="8.64" fill="rgb(166,166,255)"/>
<rect x="501.95" y="257.16" width="45.55" height="8.64" fill="rgb(89,89,255)"/>
<rect x="547.20" y="257.16" width="45.55" height="8.64" fill="rgb(102,102,255)"/>
<rect x="592.45" y="257.16" width="45.55" height="8.64" fill="rgb(255,89,89)"/>
<rect x="637.70" y="257.16" width="45.55" height="8.64" fill="rgb(255,140,140)"/>
<rect x="682.95" y="257.16" width="45.55" height="8.64" fill="rgb(255,153,153)"/>
<rect x="456.70" y="265.50" width="45.55" height="8.64" fill="rgb(102,102,255)"/>
<rect x="501.95" y="265.50" width="45.55" height="8.64" fill="rgb(89,89,255)"/>
<rect x="547.20" y="265.50" width="45.55" height="8.64" fill="rgb(178,178,255)"/>
<rect x="592.45" y="265.50" width="45.55" height="8.64" fill="rgb(255,38,38)"/>
<rect x="637.70" y="265.50" width="45.55" height="8.64" fill="rgb(255,178,178)"/>
<rect x="682.95" y="265.50" width="45.55" height="8.64" fill="rgb(255,153,153)"/>
<rect x="456.70" y="273.84" width="45.55" height="8.64" fill="rgb(102,102,255)"/>
<rect x="501.95" y="273.84" width="45.55" height="8.64" fill="rgb(102,102,255)"/>
<rect x="547.20" y="273.84" width="45.55" height="8.64" fill="rgb(178,178,255)"/>
<rect x="592.45" y="273.84" width="45.55" height="8.64" fill="rgb(255,51,51)"/>
<rect x="637.70" y="273.84" width="45.55" height="8.64" fill="rgb(255,166,166)"/>
<rect x="682.95" y="273.84" width="45.55" height="8.64" fill="rgb(255,153,153)"/>
<rect x="456.70" y="282.18" width="45.55" height="8.64" fill="rgb(128,128,255)"/>
<rect x="501.95" y="282.18" width="45.55" height="8.64" fill="rgb(64,64,255)"/>
<rect x="547.20" y="282.18" width="45.55" height="8.64" fill="rgb(166,166,255)"/>
<rect x="592.45" y="282.18" width="45.55" height="8.64" fill="rgb(255,38,38)"/>
<rect x="637.70" y="282.18" width="45.55" height="8.64" fill="rgb(255,166,166)"/>
<rect x="682.95" y="282.18" width="45.55" height="8.64" fill="rgb(255,166,166)"/>
<rect x="456.70" y="290.52" width="45.55" height="8.64" fill="rgb(140,140,255)"/>
<rect x="501.95" y="290.52" width="45.55" height="8.64" fill="rgb(38,38,255)"/>
<rect x="547.20" y="290.52" width="45.55" height="8.64" fill="rgb(178,178,255)"/>
<rect x="592.45" y="290.52" width="45.55" height="8.64" fill="rgb(255,140,140)"/>
<rect x="637.70" y="290.52" width="45.55" height="8.64" fill="rgb(255,102,102)"/>
<rect x="682.95" y="290.52" width="45.55" height="8.64" fill="rgb(255,115,115)"/>
<rect x="456.70" y="298.86" width="45.55" height="8.64" fill="rgb(140,140,255)"/>
<rect x="501.95" y="298.86" width="45.55" height="8.64" fill="rgb(38,38,255)"/>
<rect x="547.20" y="298.86" width="45.55" height="8.64" fill="rgb(242,242,255)"/>
<rect x="592.45" y="298.86" width="45.55" height="8.64" fill="rgb(255,153,153)"/>
<rect x="637.70" y="298.86" width="45.55" height="8.64" fill="rgb(255,128,128)"/>
<rect x="682.95" y="298.86" width="45.55" height="8.64" fill="rgb(255,128,128)"/>
<rect x="456.70" y="307.20" width="45.55" height="8.64" fill="rgb(128,128,255)"/>
<rect x="501.95" y="307.20" width="45.55" height="8.64" fill="rgb(128,128,255)"/>
<rect x="547.20" y="307.20" width="45.55" height="8.64" fill="rgb(89,89,255)"/>
<rect x="592.45" y="307.20" width="45.55" height="8.64" fill="rgb(255,64,64)"/>
<rect x="637.70" y="307.20" width="45.55" height="8.64" fill="rgb(255,191,191)"/>
<rect x="682.95" y="307.20" width="45.55" height="8.64" fill="rgb(255,89,89)"/>
<rect x="456.70" y="315.54" width="45.55" height="8.64" fill="rgb(128,128,255)"/>
<rect x="501.95" y="315.54" width="45.55" height="8.64" fill="rgb(115,115,255)"/>
<rect x="547.20" y="315.54" width="45.55" height="8.64" fill="rgb(153,153,255)"/>
<rect x="592.45" y="315.54" width="45.55" height="8.64" fill="rgb(255,38,38)"/>
<rect x="637.70" y="315.54" width="45.55" height="8.64" fill="rgb(255,242,242)"/>
<rect x="682.95" y="315.54" width="45.55" height="8.64" fill="rgb(255,102,102)"/>
<rect x="456.70" y="323.88" width="45.55" height="8.64" fill="rgb(204,204,255)"/>
<rect x="501.95" y="323.88" width="45.55" height="8.64" fill="rgb(38,38,255)"/>
<rect x="547.20" y="323.88" width="45.55" height="8.64" fill="rgb(128,128,255)"/>
<rect x="592.45" y="323.88" width="45.55" height="8.64" fill="rgb(255,77,77)"/>
<rect x="637.70" y="323.88" width="45.55" height="8.64" fill="rgb(255,166,166)"/>
<rect x="682.95" y="323.88" width="45.55" height="8.64" fill="rgb(255,128,128)"/>
<rect x="456.70" y="332.22" width="45.55" height="8.64" fill="rgb(166,166,255)"/>
<rect x="501.95" y="332.22" width="45.55" height="8.64" fill="rgb(38,38,255)"/>
<rect x="547.20" y="332.22" width="45.55" height="8.64" fill="rgb(153,153,255)"/>
<rect x="592.45" y="332.22" width="45.55" height="8.64" fill="rgb(255,89,89)"/>
<rect x="637.70" y="332.22" width="45.55" height="8.64" fill="rgb(255,166,166)"/>
<rect x="682.95" y="332.22" width="45.55" height="8.64" fill="rgb(255,102,102)"/>
<rect x="456.70" y="340.56" width="45.55" height="8.64" fill="rgb(255,178,178)"/>
<rect x="501.95" y="340.56" width="45.55" height="8.64" fill="rgb(255,89,89)"/>
<rect x="547.20" y="340.56" width="45.55" height="8.64" fill="rgb(255,89,89)"/>
<rect x="592.45" y="340.56" width="45.55" height="8.64" fill="rgb(166,166,255)"/>
<rect x="637.70" y="340.56" width="45.55" height="8.64" fill="rgb(51,51,255)"/>
<rect x="682.95" y="340.56" width="45.55" height="8.64" fill="rgb(140,140,255)"/>
<rect x="456.70" y="348.90" width="45.55" height="8.64" fill="rgb(255,178,178)"/>
<rect x="501.95" y="348.90" width="45.55" height="8.64" fill="rgb(255,77,77)"/>
<rect x="547.20" y="348.90" width="45.55" height="8.64" fill="rgb(255,102,102)"/>
<rect x="592.45" y="348.90" width="45.55" height="8.64" fill="rgb(153,153,255)"/>
<rect x="637.70" y="348.90" width="45.55" height="8.64" fill="rgb(64,64,255)"/>
<rect x="682.95" y="348.90" width="45.55" height="8.64" fill="rgb(140,140,255)"/>
<rect x="456.70" y="357.24" width="45.55" height="8.64" fill="rgb(255,140,140)"/>
<rect x="501.95" y="357.24" width="45.55" height="8.64" fill="rgb(255,89,89)"/>
<rect x="547.20" y="357.24" width="45.55" height="8.64" fill="rgb(255,128,128)"/>
<rect x="592.45" y="357.24" width="45.55" height="8.64" fill="rgb(204,204,255)"/>
<rect x="637.70" y="357.24" width="45.55" height="8.64" fill="rgb(38,38,255)"/>
<rect x="682.95" y="357.24" width="45.55" height="8.64" fill="rgb(115,115,255)"/>
<rect x="456.70" y="365.58" width="45.55" height="8.64" fill="rgb(255,140,140)"/>
<rect x="501.95" y="365.58" width="45.55" height="8.64" fill="rgb(255,128,128)"/>
<rect x="547.20" y="365.58" width="45.55" height="8.64" fill="rgb(255,64,64)"/>
<rect x="592.45" y="365.58" width="45.55" height="8.64" fill="rgb(191,191,255)"/>
<rect x="637.70" y="365.58" width="45.55" height="8.64" fill="rgb(51,51,255)"/>
<rect x="682.95" y="365.58" width="45.55" height="8.64" fill="rgb(115,115,255)"/>
<rect x="456.70" y="373.92" width="45.55" height="8.64" fill="rgb(255,140,140)"/>
<rect x="501.95" y="373.92" width="45.55" height="8.64" fill="rgb(255,115,115)"/>
<rect x="547.20" y="373.92" width="45.55" height="8.64" fill="rgb(255,77,77)"/>
<rect x="592.45" y="373.92" width="45.55" height="8.64" fill="rgb(191,191,255)"/>
<rect x="637.70" y="373.92" width="45.55" height="8.64" fill="rgb(51,51,255)"/>
<rect x="682.95" y="373.92" width="45.55" height="8.64" fill="rgb(115,115,255)"/>
<rect x="456.70" y="382.26" width="45.55" height="8.64" fill="rgb(255,153,153)"/>
<rect x="501.95" y="382.26" width="45.55" height="8.64" fill="rgb(255,128,128)"/>
<rect x="547.20" y="382.26" width="45.55" height="8.64" fill="rgb(255,77,77)"/>
<rect x="592.45" y="382.26" width="45.55" height="8.64" fill="rgb(51,51,255)"/>
<rect x="637.70" y="382.26" width="45.55" height="8.64" fill="rgb(153,153,255)"/>
<rect x="682.95" y="382.26" width="45.55" height="8.64" fill="rgb(153,153,255)"/>
<rect x="456.70" y="390.60" width="45.55" height="8.64" fill="rgb(255,153,153)"/>
<rect x="501.95" y="390.60" width="45.55" height="8.64" fill="rgb(255,115,115)"/>
<rect x="547.20" y="390.60" width="45.55" height="8.64" fill="rgb(255,64,64)"/>
<rect x="592.45" y="390.60" width="45.55" height="8.64" fill="rgb(64,64,255)"/>
<rect x="637.70" y="390.60" width="45.55" height="8.64" fill="rgb(153,153,255)"/>
<rect x="682.95" y="390.60" width="45.55" height="8.64" fill="rgb(128,128,255)"/>
<rect x="456.70" y="398.94" width="45.55" height="8.64" fill="rgb(255,128,128)"/>
<rect x="501.95" y="398.94" width="45.55" height="8.64" fill="rgb(255,153,153)"/>
<rect x="547.20" y="398.94" width="45.55" height="8.64" fill="rgb(255,64,64)"/>
<rect x="592.45" y="398.94" width="45.55" height="8.64" fill="rgb(64,64,255)"/>
<rect x="637.70" y="398.94" width="45.55" height="8.64" fill="rgb(178,178,255)"/>
<rect x="682.95" y="398.94" width="45.55" height="8.64" fill="rgb(128,128,255)"/>
<rect x="456.70" y="407.28" width="45.55" height="8.64" fill="rgb(255,128,128)"/>
<rect x="501.95" y="407.28" width="45.55" height="8.64" fill="rgb(255,115,115)"/>
<rect x="547.20" y="407.28" width="45.55" height="8.64" fill="rgb(255,77,77)"/>
<rect x="592.45" y="407.28" width="45.55" height="8.64" fill="rgb(115,115,255)"/>
<rect x="637.70" y="407.28" width="45.55" height="8.64" fill="rgb(153,153,255)"/>
<rect x="682.95" y="407.28" width="45.55" height="8.64" fill="rgb(77,77,255)"/>
<rect x="456.70" y="415.62" width="45.55" height="8.64" fill="rgb(255,64,64)"/>
<rect x="501.95" y="415.62" width="45.55" height="8.64" fill="rgb(255,115,115)"/>
<rect x="547.20" y="415.62" width="45.55" height="8.64" fill="rgb(255,178,178)"/>
<rect x="592.45" y="415.62" width="45.55" height="8.64" fill="rgb(64,64,255)"/>
<rect x="637.70" y="415.62" width="45.55" height="8.64" fill="rgb(153,153,255)"/>
<rect x="682.95" y="415.62" width="45.55" height="8.64" fill="rgb(166,166,255)"/>
<rect x="456.70" y="423.96" width="45.55" height="8.64" fill="rgb(255,89,89)"/>
<rect x="501.95" y="423.96" width="45.55" height="8.64" fill="rgb(255,102,102)"/>
<rect x="547.20" y="423.96" width="45.55" height="8.64" fill="rgb(255,153,153)"/>
<rect x="592.45" y="423.96" width="45.55" height="8.64" fill="rgb(38,38,255)"/>
<rect x="637.70" y="423.96" width="45.55" height="8.64" fill="rgb(153,153,255)"/>
<rect x="682.95" y="423.96" width="45.55" height="8.64" fill="rgb(178,178,255)"/>
<rect x="456.70" y="432.30" width="45.55" height="8.64" fill="rgb(255,166,166)"/>
<rect x="501.95" y="432.30" width="45.55" height="8.64" fill="rgb(255,51,51)"/>
<rect x="547.20" y="432.30" width="45.55" height="8.64" fill="rgb(255,140,140)"/>
<rect x="592.45" y="432.30" width="45.55" height="8.64" fill="rgb(64,64,255)"/>
<rect x="637.70" y="432.30" width="45.55" height="8.64" fill="rgb(153,153,255)"/>
<rect x="682.95" y="432.30" width="45.55" height="8.64" fill="rgb(140,140,255)"/>
<rect x="456.70" y="440.64" width="45.55" height="8.64" fill="rgb(255,140,140)"/>
<rect x="501.95" y="440.64" width="45.55" height="8.64" fill="rgb(255,51,51)"/>
<rect x="547.20" y="440.64" width="45.55" height="8.64" fill="rgb(255,178,178)"/>
<rect x="592.45" y="440.64" width="45.55" height="8.64" fill="rgb(64,64,255)"/>
<rect x="637.70" y="440.64" width="45.55" height="8.64" fill="rgb(102,102,255)"/>
<rect x="682.95" y="440.64" width="45.55" height="8.64" fill="rgb(217,217,255)"/>
<rect x="456.70" y="448.98" width="45.55" height="8.64" fill="rgb(255,153,153)"/>
<rect x="501.95" y="448.98" width="45.55" height="8.64" fill="rgb(255,89,89)"/>
<rect x="547.20" y="448.98" width="45.55" height="8.64" fill="rgb(255,140,140)"/>
<rect x="592.45" y="448.98" width="45.55" height="8.64" fill="rgb(64,64,255)"/>
<rect x="637.70" y="448.98" width="45.55" height="8.64" fill="rgb(255,242,242)"/>
<rect x="682.95" y="448.98" width="45.55" height="8.64" fill="rgb(64,64,255)"/>
<rect x="456.70" y="457.32" width="45.55" height="8.64" fill="rgb(255,153,153)"/>
<rect x="501.95" y="457.32" width="45.55" height="8.64" fill="rgb(255,64,64)"/>
<rect x="547.20" y="457.32" width="45.55" height="8.64" fill="rgb(255,166,166)"/>
<rect x="592.45" y="457.32" width="45.55" height="8.64" fill="rgb(64,64,255)"/>
<rect x="637.70" y="457.32" width="45.55" height="8.64" fill="rgb(255,235,235)"/>
<rect x="682.95" y="457.32" width="45.55" height="8.64" fill="rgb(77,77,255)"/>
<rect x="456.70" y="465.66" width="45.55" height="8.64" fill="rgb(255,77,77)"/>
<rect x="501.95" y="465.66" width="45.55" height="8.64" fill="rgb(255,77,77)"/>
<rect x="547.20" y="465.66" width="45.55" height="8.64" fill="rgb(255,230,230)"/>
<rect x="592.45" y="465.66" width="45.55" height="8.64" fill="rgb(128,128,255)"/>
<rect x="637.70" y="465.66" width="45.55" height="8.64" fill="rgb(178,178,255)"/>
<rect x="682.95" y="465.66" width="45.55" height="8.64" fill="rgb(102,102,255)"/>
<rect x="456.70" y="474.00" width="45.55" height="8.64" fill="rgb(255,77,77)"/>
<rect x="501.95" y="474.00" width="45.55" height="8.64" fill="rgb(255,102,102)"/>
<rect x="547.20" y="474.00" width="45.55" height="8.64" fill="rgb(255,217,217)"/>
<rect x="592.45" y="474.00" width="45.55" height="8.64" fill="rgb(115,115,255)"/>
<rect x="637.70" y="474.00" width="45.55" height="8.64" fill="rgb(230,230,255)"/>
<rect x="682.95" y="474.00" width="45.55" height="8.64" fill="rgb(51,51,255)"/>
<rect x="456.70" y="482.34" width="45.55" height="8.64" fill="rgb(255,153,153)"/>
<rect x="501.95" y="482.34" width="45.55" height="8.64" fill="rgb(255,115,115)"/>
<rect x="547.20" y="482.34" width="45.55" height="8.64" fill="rgb(255,128,128)"/>
<rect x="592.45" y="482.34" width="45.55" height="8.64" fill="rgb(204,204,255)"/>
<rect x="637.70" y="482.34" width="45.55" height="8.64" fill="rgb(191,191,255)"/>
<rect x="682.95" y="482.34" width="45.55" height="8.64" fill="rgb(0,0,255)"/>
<rect x="456.70" y="490.68" width="45.55" height="8.64" fill="rgb(255,140,140)"/>
<rect x="501.95" y="490.68" width="45.55" height="8.64" fill="rgb(255,51,51)"/>
<rect x="547.20" y="490.68" width="45.55" height="8.64" fill="rgb(255,128,128)"/>
<rect x="592.45" y="490.68" width="45.55" height="8.64" fill="rgb(178,178,255)"/>
<rect x="637.70" y="490.68" width="45.55" height="8.64" fill="rgb(166,166,255)"/>
<rect x="682.95" y="490.68" width="45.55" height="8.64" fill="rgb(77,77,255)"/>
<rect x="456.70" y="499.02" width="45.55" height="8.64" fill="rgb(255,128,128)"/>
<rect x="501.95" y="499.02" width="45.55" height="8.64" fill="rgb(255,38,38)"/>
<rect x="547.20" y="499.02" width="45.55" height="8.64" fill="rgb(255,191,191)"/>
<rect x="592.45" y="499.02" width="45.55" height="8.64" fill="rgb(128,128,255)"/>
<rect x="637.70" y="499.02" width="45.55" height="8.64" fill="rgb(153,153,255)"/>
<rect x="682.95" y="499.02" width="45.55" height="8.64" fill="rgb(89,89,255)"/>
<rect x="456.70" y="507.36" width="45.55" height="8.64" fill="rgb(255,128,128)"/>
<rect x="501.95" y="507.36" width="45.55" height="8.64" fill="rgb(255,51,51)"/>
<rect x="547.20" y="507.36" width="45.55" height="8.64" fill="rgb(255,191,191)"/>
<rect x="592.45" y="507.36" width="45.55" height="8.64" fill="rgb(153,153,255)"/>
<rect x="637.70" y="507.36" width="45.55" height="8.64" fill="rgb(178,178,255)"/>
<rect x="682.95" y="507.36" width="45.55" height="8.64" fill="rgb(89,89,255)"/>
<text x="0" y="0" transform="translate(738.00,105.10) scale(0.96,1)" font-size="7.9">TMED10</text>
<text x="0" y="0" transform="translate(738.00,113.44) scale(0.96,1)" font-size="7.9">EPB41L3</text>
<text x="0" y="0" transform="translate(738.00,121.78) scale(0.96,1)" font-size="7.9">RAPGEF5</text>
<text x="0" y="0" transform="translate(738.00,130.12) scale(0.96,1)" font-size="7.9">PARD3</text>
<text x="0" y="0" transform="translate(738.00,138.46) scale(0.96,1)" font-size="7.9">SVIL</text>
<text x="0" y="0" transform="translate(738.00,146.80) scale(0.96,1)" font-size="7.9">HCN2</text>
<text x="0" y="0" transform="translate(738.00,155.14) scale(0.96,1)" font-size="7.9">COX6A1</text>
<text x="0" y="0" transform="translate(738.00,163.48) scale(0.96,1)" font-size="7.9">GAP43</text>
<text x="0" y="0" transform="translate(738.00,171.82) scale(0.96,1)" font-size="7.9">ATP5J2</text>
<text x="0" y="0" transform="translate(738.00,180.16) scale(0.96,1)" font-size="7.9">MTMR14</text>
<text x="0" y="0" transform="translate(738.00,188.50) scale(0.96,1)" font-size="7.9">MORN4</text>
<text x="0" y="0" transform="translate(738.00,196.84) scale(0.96,1)" font-size="7.9">TENM4</text>
<text x="0" y="0" transform="translate(738.00,205.18) scale(0.96,1)" font-size="7.9">GNAS</text>
<text x="0" y="0" transform="translate(738.00,213.52) scale(0.96,1)" font-size="7.9">DBNDD1</text>
<text x="0" y="0" transform="translate(738.00,221.86) scale(0.96,1)" font-size="7.9">APOD</text>
<text x="0" y="0" transform="translate(738.00,230.20) scale(0.96,1)" font-size="7.9">SUZ12</text>
<text x="0" y="0" transform="translate(738.00,238.54) scale(0.96,1)" font-size="7.9">IGFBP5</text>
<text x="0" y="0" transform="translate(738.00,246.88) scale(0.96,1)" font-size="7.9">GPR137B</text>
<text x="0" y="0" transform="translate(738.00,255.22) scale(0.96,1)" font-size="7.9">CAMKMT</text>
<text x="0" y="0" transform="translate(738.00,263.56) scale(0.96,1)" font-size="7.9">SH3D19</text>
<text x="0" y="0" transform="translate(738.00,271.90) scale(0.96,1)" font-size="7.9">IGFBP3</text>
<text x="0" y="0" transform="translate(738.00,280.24) scale(0.96,1)" font-size="7.9">THSD4</text>
<text x="0" y="0" transform="translate(738.00,288.58) scale(0.96,1)" font-size="7.9">C6orf228</text>
<text x="0" y="0" transform="translate(738.00,296.92) scale(0.96,1)" font-size="7.9">SLC1A1</text>
<text x="0" y="0" transform="translate(738.00,305.26) scale(0.96,1)" font-size="7.9">CDK8</text>
<text x="0" y="0" transform="translate(738.00,313.60) scale(0.96,1)" font-size="7.9">FLRT2</text>
<text x="0" y="0" transform="translate(738.00,321.94) scale(0.96,1)" font-size="7.9">SLC25A32</text>
<text x="0" y="0" transform="translate(738.00,330.28) scale(0.96,1)" font-size="7.9">SLC4A7</text>
<text x="0" y="0" transform="translate(738.00,338.62) scale(0.96,1)" font-size="7.9">SLC25A24</text>
<text x="0" y="0" transform="translate(738.00,346.96) scale(0.96,1)" font-size="7.9">AJUBA</text>
<text x="0" y="0" transform="translate(738.00,355.30) scale(0.96,1)" font-size="7.9">NGFR</text>
<text x="0" y="0" transform="translate(738.00,363.64) scale(0.96,1)" font-size="7.9">USB1</text>
<text x="0" y="0" transform="translate(738.00,371.98) scale(0.96,1)" font-size="7.9">KRT80</text>
<text x="0" y="0" transform="translate(738.00,380.32) scale(0.96,1)" font-size="7.9">AMOTL2</text>
<text x="0" y="0" transform="translate(738.00,388.66) scale(0.96,1)" font-size="7.9">TMEM132A</text>
<text x="0" y="0" transform="translate(738.00,397.00) scale(0.96,1)" font-size="7.9">FZR1</text>
<text x="0" y="0" transform="translate(738.00,405.34) scale(0.96,1)" font-size="7.9">PNP</text>
<text x="0" y="0" transform="translate(738.00,413.68) scale(0.96,1)" font-size="7.9">CYR61</text>
<text x="0" y="0" transform="translate(738.00,422.02) scale(0.96,1)" font-size="7.9">TSPAN2</text>
<text x="0" y="0" transform="translate(738.00,430.36) scale(0.96,1)" font-size="7.9">C6orf57</text>
<text x="0" y="0" transform="translate(738.00,438.70) scale(0.96,1)" font-size="7.9">C9orf123</text>
<text x="0" y="0" transform="translate(738.00,447.04) scale(0.96,1)" font-size="7.9">CCM2</text>
<text x="0" y="0" transform="translate(738.00,455.38) scale(0.96,1)" font-size="7.9">POLE4</text>
<text x="0" y="0" transform="translate(738.00,463.72) scale(0.96,1)" font-size="7.9">STAC</text>
<text x="0" y="0" transform="translate(738.00,472.06) scale(0.96,1)" font-size="7.9">SLC25A10</text>
<text x="0" y="0" transform="translate(738.00,480.40) scale(0.96,1)" font-size="7.9">FZD8</text>
<text x="0" y="0" transform="translate(738.00,488.74) scale(0.96,1)" font-size="7.9">ABCC3</text>
<text x="0" y="0" transform="translate(738.00,497.08) scale(0.96,1)" font-size="7.9">LIF</text>
<text x="0" y="0" transform="translate(738.00,505.42) scale(0.96,1)" font-size="7.9">CAPN2</text>
<text x="0" y="0" transform="translate(738.00,513.76) scale(0.96,1)" font-size="7.9">AOX1</text>
<g stroke="#3a3a3a" stroke-width="0.95" fill="none">
<line x1="163.2" y1="0.5" x2="296.3" y2="0.5"/>
<line x1="163.2" y1="0" x2="163.2" y2="66.5"/>
<line x1="296.3" y1="0" x2="296.3" y2="54.2"/>
<line x1="130.6" y1="66.5" x2="196.5" y2="66.5"/>
<line x1="130.6" y1="66.5" x2="130.6" y2="69.4"/>
<line x1="108.2" y1="69.4" x2="152.6" y2="69.4"/>
<line x1="108.2" y1="69.4" x2="108.2" y2="92.7"/>
<line x1="152.6" y1="69.4" x2="152.6" y2="92.7"/>
<line x1="196.5" y1="66.5" x2="196.5" y2="92.7"/>
<line x1="263.4" y1="54.2" x2="330" y2="54.2"/>
<line x1="263.4" y1="54.2" x2="263.4" y2="57.7"/>
<line x1="330" y1="54.2" x2="330" y2="92.7"/>
<line x1="241" y1="57.7" x2="285.7" y2="57.7"/>
<line x1="241" y1="57.7" x2="241" y2="92.7"/>
<line x1="285.7" y1="57.7" x2="285.7" y2="92.7"/>
<line x1="535.7" y1="0.5" x2="649.3" y2="0.5"/>
<line x1="535.7" y1="0" x2="535.7" y2="66.5"/>
<line x1="649.3" y1="0" x2="649.3" y2="60.2"/>
<line x1="502" y1="66.5" x2="570.4" y2="66.5"/>
<line x1="502" y1="66.5" x2="502" y2="70.4"/>
<line x1="479" y1="70.4" x2="524.7" y2="70.4"/>
<line x1="479" y1="70.4" x2="479" y2="94.9"/>
<line x1="524.7" y1="70.4" x2="524.7" y2="94.9"/>
<line x1="570.4" y1="66.5" x2="570.4" y2="94.9"/>
<line x1="615.3" y1="60.2" x2="683" y2="60.2"/>
<line x1="615.3" y1="60.2" x2="615.3" y2="94.9"/>
<line x1="683" y1="60.2" x2="683" y2="66.5"/>
<line x1="660.6" y1="66.5" x2="705.6" y2="66.5"/>
<line x1="660.6" y1="66.5" x2="660.6" y2="94.9"/>
<line x1="705.6" y1="66.5" x2="705.6" y2="94.9"/>
</g>
<text x="0" y="0" transform="translate(168.3,24.9) scale(1.025,1)" font-size="16.9" font-weight="bold">U3034MG</text>
<text x="0" y="0" transform="translate(546.1,24.9) scale(1.025,1)" font-size="16.9" font-weight="bold">U3031MG</text>
<defs><linearGradient id="ck" x1="0" y1="0" x2="0" y2="1"><stop offset="0" stop-color="#ff1a00"/><stop offset="0.5" stop-color="#ffffff"/><stop offset="1" stop-color="#0020ff"/></linearGradient><linearGradient id="pa" x1="0" y1="0" x2="0" y2="1"><stop offset="0" stop-color="#ff0000"/><stop offset="0.2" stop-color="#f00030"/><stop offset="0.45" stop-color="#d20070"/><stop offset="0.7" stop-color="#a800b4"/><stop offset="0.92" stop-color="#6400e6"/><stop offset="1" stop-color="#4000ff"/></linearGradient></defs>
<rect x="44.3" y="87.9" width="16.7" height="103.8" fill="url(#ck)"/>
<line x1="61.2" y1="88" x2="61.2" y2="191.7" stroke="#888" stroke-width="0.6"/>
<line x1="61" y1="92.5" x2="63" y2="92.5" stroke="#333" stroke-width="0.6"/>
<text x="0" y="0" transform="translate(72.6,92.5) rotate(-90)" font-size="5.5" text-anchor="middle">1.5</text>
<line x1="61" y1="108.4" x2="63" y2="108.4" stroke="#333" stroke-width="0.6"/>
<text x="0" y="0" transform="translate(72.6,108.4) rotate(-90)" font-size="5.5" text-anchor="middle">1</text>
<line x1="61" y1="124.4" x2="63" y2="124.4" stroke="#333" stroke-width="0.6"/>
<text x="0" y="0" transform="translate(72.6,124.4) rotate(-90)" font-size="5.5" text-anchor="middle">0.5</text>
<line x1="61" y1="139.5" x2="63" y2="139.5" stroke="#333" stroke-width="0.6"/>
<text x="0" y="0" transform="translate(72.6,139.5) rotate(-90)" font-size="5.5" text-anchor="middle">0</text>
<line x1="61" y1="155.2" x2="63" y2="155.2" stroke="#333" stroke-width="0.6"/>
<text x="0" y="0" transform="translate(72.6,155.2) rotate(-90)" font-size="5.5" text-anchor="middle">-0.5</text>
<line x1="61" y1="170.6" x2="63" y2="170.6" stroke="#333" stroke-width="0.6"/>
<text x="0" y="0" transform="translate(72.6,170.6) rotate(-90)" font-size="5.5" text-anchor="middle">-1</text>
<line x1="61" y1="186.4" x2="63" y2="186.4" stroke="#333" stroke-width="0.6"/>
<text x="0" y="0" transform="translate(72.6,186.4) rotate(-90)" font-size="5.5" text-anchor="middle">-1.5</text>
<text x="0" y="0" transform="translate(80.3,139.8) rotate(-90)" font-size="5.5" text-anchor="middle">Value</text>
<text x="0" y="0" transform="translate(41.6,139.3) rotate(-90)" font-size="6.3" font-weight="bold" text-anchor="middle">Color Key</text>
<text x="0" y="0" transform="translate(108.47,514.40) rotate(-90) scale(1.0,1.0)" font-size="10.4" text-anchor="end">ip_284_14</text>
<text x="0" y="0" transform="translate(152.80,514.40) rotate(-90) scale(1.0,1.0)" font-size="10.4" text-anchor="end">ip_284_13</text>
<text x="0" y="0" transform="translate(197.13,514.40) rotate(-90) scale(1.0,1.0)" font-size="10.4" text-anchor="end">ip_284_15</text>
<text x="0" y="0" transform="translate(241.47,514.40) rotate(-90) scale(1.0,1.0)" font-size="10.4" text-anchor="end">ip_284_12</text>
<text x="0" y="0" transform="translate(285.80,514.40) rotate(-90) scale(1.0,1.0)" font-size="10.4" text-anchor="end">ip_284_11</text>
<text x="0" y="0" transform="translate(330.13,514.40) rotate(-90) scale(1.0,1.0)" font-size="10.4" text-anchor="end">ip_284_10</text>
<text x="0" y="0" transform="translate(479.54,525.50) rotate(-90) scale(1.04,0.96)" font-size="10.6" text-anchor="end">ip_284_5</text>
<text x="0" y="0" transform="translate(524.80,525.50) rotate(-90) scale(1.04,0.96)" font-size="10.6" text-anchor="end">ip_284_6</text>
<text x="0" y="0" transform="translate(570.08,525.50) rotate(-90) scale(1.04,0.96)" font-size="10.6" text-anchor="end">ip_284_4</text>
<text x="0" y="0" transform="translate(615.35,525.50) rotate(-90) scale(1.04,0.96)" font-size="10.6" text-anchor="end">ip_284_1</text>
<text x="0" y="0" transform="translate(660.62,525.50) rotate(-90) scale(1.04,0.96)" font-size="10.6" text-anchor="end">ip_284_3</text>
<text x="0" y="0" transform="translate(705.88,525.50) rotate(-90) scale(1.04,0.96)" font-size="10.6" text-anchor="end">ip_284_2</text>
<g fill="#000">
<rect x="93.8" y="571.9" width="113" height="2.1"/><rect x="225" y="571.9" width="113.4" height="2.1"/>
<rect x="466" y="572" width="113" height="1.9"/><rect x="597.3" y="572" width="113.3" height="1.9"/>
</g>
<text x="0" y="0" transform="translate(121.3,592.1) scale(1.065,1)" font-size="16.6" font-weight="bold">siPar3</text>
<text x="0" y="0" transform="translate(266.6,592.1) scale(1.08,1)" font-size="16.6" font-weight="bold">siC</text>
<text x="0" y="0" transform="translate(491.1,592.3) scale(1.08,1)" font-size="16.6" font-weight="bold">siPar3</text>
<text x="0" y="0" transform="translate(642.1,592.3) scale(1.08,1)" font-size="16.6" font-weight="bold">siC</text>
<text x="2.5" y="626.4" font-size="30.5" font-weight="bold">b</text>
<rect x="417.2" y="600.4" width="309.2" height="122.80000000000007" fill="#fff"/>
<line x1="448.70" y1="600.4" x2="448.70" y2="723.2" stroke="#f0f0f0" stroke-width="0.6"/>
<line x1="512.10" y1="600.4" x2="512.10" y2="723.2" stroke="#f0f0f0" stroke-width="0.6"/>
<line x1="575.50" y1="600.4" x2="575.50" y2="723.2" stroke="#f0f0f0" stroke-width="0.6"/>
<line x1="638.90" y1="600.4" x2="638.90" y2="723.2" stroke="#f0f0f0" stroke-width="0.6"/>
<line x1="702.30" y1="600.4" x2="702.30" y2="723.2" stroke="#f0f0f0" stroke-width="0.6"/>
<line x1="480.40" y1="600.4" x2="480.40" y2="723.2" stroke="#e6e6e6" stroke-width="1"/>
<line x1="543.80" y1="600.4" x2="543.80" y2="723.2" stroke="#e6e6e6" stroke-width="1"/>
<line x1="607.20" y1="600.4" x2="607.20" y2="723.2" stroke="#e6e6e6" stroke-width="1"/>
<line x1="670.60" y1="600.4" x2="670.60" y2="723.2" stroke="#e6e6e6" stroke-width="1"/>
<line x1="417.2" y1="617.80" x2="726.4" y2="617.80" stroke="#e6e6e6" stroke-width="1"/>
<line x1="417.2" y1="647.30" x2="726.4" y2="647.30" stroke="#e6e6e6" stroke-width="1"/>
<line x1="417.2" y1="676.70" x2="726.4" y2="676.70" stroke="#e6e6e6" stroke-width="1"/>
<line x1="417.2" y1="705.70" x2="726.4" y2="705.70" stroke="#e6e6e6" stroke-width="1"/>
<rect x="417.2" y="600.4" width="309.2" height="122.80000000000007" fill="none" stroke="#666" stroke-width="1"/>
<rect x="726.4" y="600.4" width="15.200000000000045" height="122.80000000000007" fill="#d9d9d9" stroke="#666" stroke-width="1"/>
<text x="0" y="0" transform="translate(731.20,661.80) rotate(90) scale(0.92,1)" font-size="9.5" text-anchor="middle" fill="#1a1a1a">BP</text>
<line x1="413.6" y1="617.80" x2="417.2" y2="617.80" stroke="#333" stroke-width="0.8"/>
<text x="0" y="0" transform="translate(412.4,621.70) scale(0.886,1)" font-size="11.8" text-anchor="end" fill="#1a1a1a">mitochondrial transport</text>
<ellipse cx="712.87" cy="617.80" rx="8.0" ry="9.3" fill="#5a0ff0"/>
<line x1="413.6" y1="647.30" x2="417.2" y2="647.30" stroke="#333" stroke-width="0.8"/>
<text x="0" y="0" transform="translate(412.4,651.20) scale(0.886,1)" font-size="11.8" text-anchor="end" fill="#1a1a1a">nucleotide transport</text>
<ellipse cx="571.98" cy="647.30" rx="6.65" ry="7.7" fill="#f0003c"/>
<line x1="413.6" y1="676.70" x2="417.2" y2="676.70" stroke="#333" stroke-width="0.8"/>
<text x="0" y="0" transform="translate(412.4,680.60) scale(0.886,1)" font-size="11.8" text-anchor="end" fill="#1a1a1a">organophosphate ester transport</text>
<ellipse cx="571.98" cy="676.70" rx="6.65" ry="7.7" fill="#5010f0"/>
<line x1="413.6" y1="705.70" x2="417.2" y2="705.70" stroke="#333" stroke-width="0.8"/>
<text x="0" y="0" transform="translate(412.4,709.60) scale(0.886,1)" font-size="11.8" text-anchor="end" fill="#1a1a1a">mitochondrial transmembrane transport</text>
<ellipse cx="571.98" cy="705.70" rx="6.65" ry="7.7" fill="#5010f0"/>
<rect x="417.2" y="729.1" width="309.2" height="122.19999999999993" fill="#fff"/>
<line x1="448.70" y1="729.1" x2="448.70" y2="851.3" stroke="#f0f0f0" stroke-width="0.6"/>
<line x1="512.10" y1="729.1" x2="512.10" y2="851.3" stroke="#f0f0f0" stroke-width="0.6"/>
<line x1="575.50" y1="729.1" x2="575.50" y2="851.3" stroke="#f0f0f0" stroke-width="0.6"/>
<line x1="638.90" y1="729.1" x2="638.90" y2="851.3" stroke="#f0f0f0" stroke-width="0.6"/>
<line x1="702.30" y1="729.1" x2="702.30" y2="851.3" stroke="#f0f0f0" stroke-width="0.6"/>
<line x1="480.40" y1="729.1" x2="480.40" y2="851.3" stroke="#e6e6e6" stroke-width="1"/>
<line x1="543.80" y1="729.1" x2="543.80" y2="851.3" stroke="#e6e6e6" stroke-width="1"/>
<line x1="607.20" y1="729.1" x2="607.20" y2="851.3" stroke="#e6e6e6" stroke-width="1"/>
<line x1="670.60" y1="729.1" x2="670.60" y2="851.3" stroke="#e6e6e6" stroke-width="1"/>
<line x1="417.2" y1="735.90" x2="726.4" y2="735.90" stroke="#e6e6e6" stroke-width="1"/>
<line x1="417.2" y1="747.97" x2="726.4" y2="747.97" stroke="#e6e6e6" stroke-width="1"/>
<line x1="417.2" y1="760.04" x2="726.4" y2="760.04" stroke="#e6e6e6" stroke-width="1"/>
<line x1="417.2" y1="772.11" x2="726.4" y2="772.11" stroke="#e6e6e6" stroke-width="1"/>
<line x1="417.2" y1="784.18" x2="726.4" y2="784.18" stroke="#e6e6e6" stroke-width="1"/>
<line x1="417.2" y1="796.25" x2="726.4" y2="796.25" stroke="#e6e6e6" stroke-width="1"/>
<line x1="417.2" y1="808.32" x2="726.4" y2="808.32" stroke="#e6e6e6" stroke-width="1"/>
<line x1="417.2" y1="820.39" x2="726.4" y2="820.39" stroke="#e6e6e6" stroke-width="1"/>
<line x1="417.2" y1="832.46" x2="726.4" y2="832.46" stroke="#e6e6e6" stroke-width="1"/>
<line x1="417.2" y1="844.53" x2="726.4" y2="844.53" stroke="#e6e6e6" stroke-width="1"/>
<rect x="417.2" y="729.1" width="309.2" height="122.19999999999993" fill="none" stroke="#666" stroke-width="1"/>
<rect x="726.4" y="729.1" width="15.200000000000045" height="122.19999999999993" fill="#d9d9d9" stroke="#666" stroke-width="1"/>
<text x="0" y="0" transform="translate(731.20,790.20) rotate(90) scale(0.92,1)" font-size="9.5" text-anchor="middle" fill="#1a1a1a">CC</text>
<line x1="413.6" y1="735.90" x2="417.2" y2="735.90" stroke="#333" stroke-width="0.8"/>
<text x="0" y="0" transform="translate(412.4,739.80) scale(0.886,1)" font-size="11.8" text-anchor="end" fill="#1a1a1a">inner mitochondrial membrane protein complex</text>
<ellipse cx="571.98" cy="735.90" rx="6.65" ry="7.7" fill="#1000f8"/>
<line x1="413.6" y1="747.97" x2="417.2" y2="747.97" stroke="#333" stroke-width="0.8"/>
<text x="0" y="0" transform="translate(412.4,751.87) scale(0.886,1)" font-size="11.8" text-anchor="end" fill="#1a1a1a">mitochondrial membrane part</text>
<ellipse cx="571.98" cy="747.97" rx="6.65" ry="7.7" fill="#1000f8"/>
<line x1="413.6" y1="760.04" x2="417.2" y2="760.04" stroke="#333" stroke-width="0.8"/>
<text x="0" y="0" transform="translate(412.4,763.94) scale(0.886,1)" font-size="11.8" text-anchor="end" fill="#1a1a1a">mitochondrial protein complex</text>
<ellipse cx="571.98" cy="760.04" rx="6.65" ry="7.7" fill="#1000f8"/>
<line x1="413.6" y1="772.11" x2="417.2" y2="772.11" stroke="#333" stroke-width="0.8"/>
<text x="0" y="0" transform="translate(412.4,776.01) scale(0.886,1)" font-size="11.8" text-anchor="end" fill="#1a1a1a">mitochondrial proton−transporting ATP synthase complex, coupling factor F(o)</text>
<ellipse cx="431.09" cy="772.11" rx="3.78" ry="4.1" fill="#0500f0"/>
<line x1="413.6" y1="784.18" x2="417.2" y2="784.18" stroke="#333" stroke-width="0.8"/>
<text x="0" y="0" transform="translate(412.4,788.08) scale(0.886,1)" font-size="11.8" text-anchor="end" fill="#1a1a1a">zymogen granule membrane</text>
<ellipse cx="431.09" cy="784.18" rx="3.78" ry="4.1" fill="#0500f0"/>
<line x1="413.6" y1="796.25" x2="417.2" y2="796.25" stroke="#333" stroke-width="0.8"/>
<text x="0" y="0" transform="translate(412.4,800.15) scale(0.886,1)" font-size="11.8" text-anchor="end" fill="#1a1a1a">zymogen granule</text>
<ellipse cx="431.09" cy="796.25" rx="3.78" ry="4.1" fill="#0500f0"/>
<line x1="413.6" y1="808.32" x2="417.2" y2="808.32" stroke="#333" stroke-width="0.8"/>
<text x="0" y="0" transform="translate(412.4,812.22) scale(0.886,1)" font-size="11.8" text-anchor="end" fill="#1a1a1a">proton−transporting ATP synthase complex, coupling factor F(o)</text>
<ellipse cx="431.09" cy="808.32" rx="3.78" ry="4.1" fill="#0500f0"/>
<line x1="413.6" y1="820.39" x2="417.2" y2="820.39" stroke="#333" stroke-width="0.8"/>
<text x="0" y="0" transform="translate(412.4,824.29) scale(0.886,1)" font-size="11.8" text-anchor="end" fill="#1a1a1a">mitochondrial respiratory chain complex IV</text>
<ellipse cx="431.09" cy="820.39" rx="3.78" ry="4.1" fill="#0500f0"/>
<line x1="413.6" y1="832.46" x2="417.2" y2="832.46" stroke="#333" stroke-width="0.8"/>
<text x="0" y="0" transform="translate(412.4,836.36) scale(0.886,1)" font-size="11.8" text-anchor="end" fill="#1a1a1a">respiratory chain complex IV</text>
<ellipse cx="431.09" cy="832.46" rx="3.78" ry="4.1" fill="#0500f0"/>
<line x1="413.6" y1="844.53" x2="417.2" y2="844.53" stroke="#333" stroke-width="0.8"/>
<text x="0" y="0" transform="translate(412.4,848.43) scale(0.886,1)" font-size="11.8" text-anchor="end" fill="#1a1a1a">mitochondrial proton−transporting ATP synthase complex</text>
<ellipse cx="431.09" cy="844.53" rx="3.78" ry="4.1" fill="#0500f0"/>
<rect x="417.2" y="857.3" width="309.2" height="123.0" fill="#fff"/>
<line x1="448.70" y1="857.3" x2="448.70" y2="980.3" stroke="#f0f0f0" stroke-width="0.6"/>
<line x1="512.10" y1="857.3" x2="512.10" y2="980.3" stroke="#f0f0f0" stroke-width="0.6"/>
<line x1="575.50" y1="857.3" x2="575.50" y2="980.3" stroke="#f0f0f0" stroke-width="0.6"/>
<line x1="638.90" y1="857.3" x2="638.90" y2="980.3" stroke="#f0f0f0" stroke-width="0.6"/>
<line x1="702.30" y1="857.3" x2="702.30" y2="980.3" stroke="#f0f0f0" stroke-width="0.6"/>
<line x1="480.40" y1="857.3" x2="480.40" y2="980.3" stroke="#e6e6e6" stroke-width="1"/>
<line x1="543.80" y1="857.3" x2="543.80" y2="980.3" stroke="#e6e6e6" stroke-width="1"/>
<line x1="607.20" y1="857.3" x2="607.20" y2="980.3" stroke="#e6e6e6" stroke-width="1"/>
<line x1="670.60" y1="857.3" x2="670.60" y2="980.3" stroke="#e6e6e6" stroke-width="1"/>
<line x1="417.2" y1="864.70" x2="726.4" y2="864.70" stroke="#e6e6e6" stroke-width="1"/>
<line x1="417.2" y1="876.73" x2="726.4" y2="876.73" stroke="#e6e6e6" stroke-width="1"/>
<line x1="417.2" y1="888.76" x2="726.4" y2="888.76" stroke="#e6e6e6" stroke-width="1"/>
<line x1="417.2" y1="900.79" x2="726.4" y2="900.79" stroke="#e6e6e6" stroke-width="1"/>
<line x1="417.2" y1="912.82" x2="726.4" y2="912.82" stroke="#e6e6e6" stroke-width="1"/>
<line x1="417.2" y1="924.85" x2="726.4" y2="924.85" stroke="#e6e6e6" stroke-width="1"/>
<line x1="417.2" y1="936.88" x2="726.4" y2="936.88" stroke="#e6e6e6" stroke-width="1"/>
<line x1="417.2" y1="948.91" x2="726.4" y2="948.91" stroke="#e6e6e6" stroke-width="1"/>
<line x1="417.2" y1="960.94" x2="726.4" y2="960.94" stroke="#e6e6e6" stroke-width="1"/>
<line x1="417.2" y1="972.97" x2="726.4" y2="972.97" stroke="#e6e6e6" stroke-width="1"/>
<rect x="417.2" y="857.3" width="309.2" height="123.0" fill="none" stroke="#666" stroke-width="1"/>
<rect x="726.4" y="857.3" width="15.200000000000045" height="123.0" fill="#d9d9d9" stroke="#666" stroke-width="1"/>
<text x="0" y="0" transform="translate(731.20,918.80) rotate(90) scale(0.92,1)" font-size="9.5" text-anchor="middle" fill="#1a1a1a">MF</text>
<line x1="413.6" y1="864.70" x2="417.2" y2="864.70" stroke="#333" stroke-width="0.8"/>
<text x="0" y="0" transform="translate(412.4,868.60) scale(0.886,1)" font-size="11.8" text-anchor="end" fill="#1a1a1a">nucleotide transmembrane transporter activity</text>
<ellipse cx="571.98" cy="864.70" rx="6.65" ry="7.7" fill="#ff0000"/>
<line x1="413.6" y1="876.73" x2="417.2" y2="876.73" stroke="#333" stroke-width="0.8"/>
<text x="0" y="0" transform="translate(412.4,880.63) scale(0.886,1)" font-size="11.8" text-anchor="end" fill="#1a1a1a">organophosphate ester transmembrane transporter activity</text>
<ellipse cx="571.98" cy="876.73" rx="6.65" ry="7.7" fill="#ff0005"/>
<line x1="413.6" y1="888.76" x2="417.2" y2="888.76" stroke="#333" stroke-width="0.8"/>
<text x="0" y="0" transform="translate(412.4,892.66) scale(0.886,1)" font-size="11.8" text-anchor="end" fill="#1a1a1a">nucleobase−containing compound transmembrane transporter activity</text>
<ellipse cx="571.98" cy="888.76" rx="6.65" ry="7.7" fill="#fa000f"/>
<line x1="413.6" y1="900.79" x2="417.2" y2="900.79" stroke="#333" stroke-width="0.8"/>
<text x="0" y="0" transform="translate(412.4,904.69) scale(0.886,1)" font-size="11.8" text-anchor="end" fill="#1a1a1a">drug transmembrane transporter activity</text>
<ellipse cx="571.98" cy="900.79" rx="6.65" ry="7.7" fill="#e1004b"/>
<line x1="413.6" y1="912.82" x2="417.2" y2="912.82" stroke="#333" stroke-width="0.8"/>
<text x="0" y="0" transform="translate(412.4,916.72) scale(0.886,1)" font-size="11.8" text-anchor="end" fill="#1a1a1a">organic anion transmembrane transporter activity</text>
<ellipse cx="571.98" cy="912.82" rx="6.65" ry="7.7" fill="#b400aa"/>
<line x1="413.6" y1="924.85" x2="417.2" y2="924.85" stroke="#333" stroke-width="0.8"/>
<text x="0" y="0" transform="translate(412.4,928.75) scale(0.886,1)" font-size="11.8" text-anchor="end" fill="#1a1a1a">ADP transmembrane transporter activity</text>
<ellipse cx="431.09" cy="924.85" rx="3.78" ry="4.1" fill="#b800b0"/>
<line x1="413.6" y1="936.88" x2="417.2" y2="936.88" stroke="#333" stroke-width="0.8"/>
<text x="0" y="0" transform="translate(412.4,940.78) scale(0.886,1)" font-size="11.8" text-anchor="end" fill="#1a1a1a">adenine nucleotide transmembrane transporter activity</text>
<ellipse cx="431.09" cy="936.88" rx="3.78" ry="4.1" fill="#b800b0"/>
<line x1="413.6" y1="948.91" x2="417.2" y2="948.91" stroke="#333" stroke-width="0.8"/>
<text x="0" y="0" transform="translate(412.4,952.81) scale(0.886,1)" font-size="11.8" text-anchor="end" fill="#1a1a1a">purine ribonucleotide transmembrane transporter activity</text>
<ellipse cx="431.09" cy="948.91" rx="3.78" ry="4.1" fill="#b800b0"/>
<line x1="413.6" y1="960.94" x2="417.2" y2="960.94" stroke="#333" stroke-width="0.8"/>
<text x="0" y="0" transform="translate(412.4,964.84) scale(0.886,1)" font-size="11.8" text-anchor="end" fill="#1a1a1a">phosphatidylinositol−3,5−bisphosphate 3−phosphatase activity</text>
<ellipse cx="431.09" cy="960.94" rx="3.78" ry="4.1" fill="#b800b0"/>
<line x1="413.6" y1="972.97" x2="417.2" y2="972.97" stroke="#333" stroke-width="0.8"/>
<text x="0" y="0" transform="translate(412.4,976.87) scale(0.886,1)" font-size="11.8" text-anchor="end" fill="#1a1a1a">purine nucleotide transmembrane transporter activity</text>
<ellipse cx="431.09" cy="972.97" rx="3.78" ry="4.1" fill="#b800b0"/>
<line x1="417.00" y1="980.3" x2="417.00" y2="983.5" stroke="#333" stroke-width="0.8"/>
<text x="0" y="0" transform="translate(417.00,994.4) scale(0.89,1)" font-size="12" text-anchor="middle" fill="#1a1a1a">0.10</text>
<line x1="480.40" y1="980.3" x2="480.40" y2="983.5" stroke="#333" stroke-width="0.8"/>
<text x="0" y="0" transform="translate(480.40,994.4) scale(0.89,1)" font-size="12" text-anchor="middle" fill="#1a1a1a">0.15</text>
<line x1="543.80" y1="980.3" x2="543.80" y2="983.5" stroke="#333" stroke-width="0.8"/>
<text x="0" y="0" transform="translate(543.80,994.4) scale(0.89,1)" font-size="12" text-anchor="middle" fill="#1a1a1a">0.20</text>
<line x1="607.20" y1="980.3" x2="607.20" y2="983.5" stroke="#333" stroke-width="0.8"/>
<text x="0" y="0" transform="translate(607.20,994.4) scale(0.89,1)" font-size="12" text-anchor="middle" fill="#1a1a1a">0.25</text>
<line x1="670.60" y1="980.3" x2="670.60" y2="983.5" stroke="#333" stroke-width="0.8"/>
<text x="0" y="0" transform="translate(670.60,994.4) scale(0.89,1)" font-size="12" text-anchor="middle" fill="#1a1a1a">0.30</text>
<text x="0" y="0" transform="translate(571.4,1008.8) scale(0.89,1)" font-size="12" text-anchor="middle" fill="#1a1a1a">GeneRatio</text>
<text x="0" y="0" transform="translate(756.9,682.3) scale(0.85,1)" font-size="11.1" fill="#1a1a1a">p.adjust</text>
<rect x="756.9" y="686.8" width="15" height="86.9" fill="url(#pa)"/>
<line x1="756.9" y1="704.3" x2="759.9" y2="704.3" stroke="#fff" stroke-width="0.8"/>
<line x1="768.9" y1="704.3" x2="771.9" y2="704.3" stroke="#fff" stroke-width="0.8"/>
<text x="0" y="0" transform="translate(775.5,707.3) scale(0.86,1)" font-size="8.6" fill="#1a1a1a">0.01</text>
<line x1="756.9" y1="724.2" x2="759.9" y2="724.2" stroke="#fff" stroke-width="0.8"/>
<line x1="768.9" y1="724.2" x2="771.9" y2="724.2" stroke="#fff" stroke-width="0.8"/>
<text x="0" y="0" transform="translate(775.5,727.2) scale(0.86,1)" font-size="8.6" fill="#1a1a1a">0.02</text>
<line x1="756.9" y1="744.2" x2="759.9" y2="744.2" stroke="#fff" stroke-width="0.8"/>
<line x1="768.9" y1="744.2" x2="771.9" y2="744.2" stroke="#fff" stroke-width="0.8"/>
<text x="0" y="0" transform="translate(775.5,747.2) scale(0.86,1)" font-size="8.6" fill="#1a1a1a">0.03</text>
<line x1="756.9" y1="764.1" x2="759.9" y2="764.1" stroke="#fff" stroke-width="0.8"/>
<line x1="768.9" y1="764.1" x2="771.9" y2="764.1" stroke="#fff" stroke-width="0.8"/>
<text x="0" y="0" transform="translate(775.5,767.1) scale(0.86,1)" font-size="8.6" fill="#1a1a1a">0.04</text>
<text x="0" y="0" transform="translate(757.1,804.6) scale(0.84,1)" font-size="11.1" fill="#1a1a1a">Count</text>
<ellipse cx="766.6" cy="818.0" rx="3.3" ry="3.65" fill="#000"/>
<text x="0" y="0" transform="translate(778.5,821.0) scale(0.84,1)" font-size="8.6" fill="#1a1a1a">1.0</text>
<ellipse cx="766.6" cy="835.3" rx="5.65" ry="6.4" fill="#000"/>
<text x="0" y="0" transform="translate(778.5,838.3) scale(0.84,1)" font-size="8.6" fill="#1a1a1a">1.5</text>
<ellipse cx="766.6" cy="853.0" rx="6.65" ry="7.7" fill="#000"/>
<text x="0" y="0" transform="translate(778.5,856.0) scale(0.84,1)" font-size="8.6" fill="#1a1a1a">2.0</text>
<ellipse cx="766.6" cy="872.9" rx="7.45" ry="8.2" fill="#000"/>
<text x="0" y="0" transform="translate(778.5,875.9) scale(0.84,1)" font-size="8.6" fill="#1a1a1a">2.5</text>
<ellipse cx="766.6" cy="892.5" rx="7.9" ry="9.0" fill="#000"/>
<text x="0" y="0" transform="translate(778.5,895.5) scale(0.84,1)" font-size="8.6" fill="#1a1a1a">3.0</text>
<text x="-0.8" y="1030.6" font-size="29" font-weight="bold">c</text>
<g fill="#000"><rect x="27" y="1016" width="476" height="2"/><rect x="27" y="1045" width="476" height="2"/><rect x="27" y="1076.5" width="476" height="2"/><rect x="27" y="1016" width="2" height="62.5"/><rect x="501" y="1016" width="2" height="62.5"/><rect x="394" y="1016" width="2" height="62.5"/></g>
<text x="211.7" y="1037.2" font-size="13.7" font-weight="bold" text-anchor="middle">KEGG Pathways Term</text>
<text x="447.5" y="1037.4" font-size="13.7" font-weight="bold" text-anchor="middle">Adj. <tspan font-style="italic">p</tspan>-value</text>
<text x="211.3" y="1067" font-size="13.87" text-anchor="middle">Oxidative phosphorylation_Homo_sapiens_hsa00190</text>
<text x="448" y="1067" font-size="13.87" text-anchor="middle">0.008</text>
<text x="0" y="0" transform="translate(-0.9,1118.4) scale(0.97,1)" font-size="31" font-weight="bold">d</text>
<path d="M28.3,1095 H531.6 V1016.5 H678.3 V1245 H531.6 V1224.5 H28.3 Z" fill="#dfe5c9"/>
<text x="41.4" y="1113.2" font-size="10.9" stroke-width="0.22" textLength="379.6" lengthAdjust="spacingAndGlyphs" xml:space="preserve"><tspan fill="#f02828" stroke="#f02828">ATP5J2 (ATP synthase, mitochondrial F0 complex): oxidative phosphorylation</tspan></text>
<text x="41.4" y="1126.9" font-size="10.9" stroke-width="0.22" textLength="291.0" lengthAdjust="spacingAndGlyphs" xml:space="preserve"><tspan fill="#f02828" stroke="#f02828">COX6A1 (cytochrome c oxidase): oxidative phosphorylation</tspan></text>
<text x="41.4" y="1141.0" font-size="10.9" stroke-width="0.22" textLength="402.2" lengthAdjust="spacingAndGlyphs" xml:space="preserve"><tspan fill="#f02828" stroke="#f02828">SLC25A24 (solute carrier 25): mitochondrial calcium-binding transporter SCaMC-1</tspan></text>
<text x="41.4" y="1156.4" font-size="10.9" stroke-width="0.22" textLength="352.8" lengthAdjust="spacingAndGlyphs" xml:space="preserve"><tspan fill="#f02828" stroke="#f02828">SLC25A32 (solute carrier 25): mitochondrial transporter of THF and FAD</tspan></text>
<text x="41.4" y="1170.3" font-size="10.9" stroke-width="0.22" textLength="457.1" lengthAdjust="spacingAndGlyphs" xml:space="preserve"><tspan fill="#f02828" stroke="#f02828">CDK8 (cyclin dependent kinase):</tspan><tspan fill="#2a2ae6" stroke="#2a2ae6">  nuclear Mediator complex;</tspan><tspan fill="#f02828" stroke="#f02828"> mitochondrial cyclin C regulator</tspan></text>
<text x="41.4" y="1186.0" font-size="10.9" stroke-width="0.22" textLength="401.0" lengthAdjust="spacingAndGlyphs" xml:space="preserve"><tspan fill="#1a1a1a" stroke="#1a1a1a">TMED10 (Transmembrane emp24 domain protein): ER-Golgi, trafficking regulator</tspan></text>
<text x="41.4" y="1199.9" font-size="10.9" stroke-width="0.22" textLength="437.0" lengthAdjust="spacingAndGlyphs" xml:space="preserve"><tspan fill="#1a1a1a" stroke="#1a1a1a">MTMR14 (myotubularin-related): phosphatidylinositol phosphatase, trafficking regulator</tspan></text>
<text x="41.4" y="1213.8" font-size="10.9" stroke-width="0.22" textLength="421.8" lengthAdjust="spacingAndGlyphs" xml:space="preserve"><tspan fill="#2a2ae6" stroke="#2a2ae6">BRWD1 (bromodomain and WD repeat domain):  histone reader, chromatin regulator</tspan></text>
<line x1="478.9" y1="1136.9" x2="550.4" y2="1095.7" stroke="#f03020" stroke-width="1.9" stroke-linecap="round" stroke-dasharray="0.2,3.3"/>
<line x1="497.3" y1="1189.2" x2="568.9" y2="1155.9" stroke="#111" stroke-width="1.9" stroke-linecap="round" stroke-dasharray="0.2,3.3"/>
<line x1="491" y1="1212" x2="548" y2="1212" stroke="#2030e0" stroke-width="1.9" stroke-linecap="round" stroke-dasharray="0.2,3.3"/>
<path d="M547.4,1079.1 C548.8,1075.5 550.8,1069.2 556.4,1064.3 C562.0,1059.4 572.3,1054.2 581.1,1049.5 C589.9,1044.8 601.1,1040.5 609.0,1036.4 C616.9,1032.3 623.2,1027.4 628.7,1024.9 C634.2,1022.4 637.5,1021.8 641.9,1021.6 C646.3,1021.5 651.9,1022.6 655.0,1024.0 C658.1,1025.4 659.7,1027.5 660.8,1029.8 C661.9,1032.1 662.0,1034.4 661.6,1038.0 C661.2,1041.6 660.5,1047.1 658.3,1051.2 C656.1,1055.3 652.9,1058.3 648.5,1062.7 C644.1,1067.1 638.6,1072.8 632.0,1077.4 C625.4,1082.1 616.7,1087.3 609.0,1090.6 C601.3,1093.9 593.4,1095.8 586.0,1097.2 C578.6,1098.6 570.2,1099.3 564.7,1098.8 C559.2,1098.2 555.9,1096.1 553.1,1093.9 C550.4,1091.7 549.2,1088.2 548.2,1085.7 C547.2,1083.2 546.0,1082.7 547.4,1079.1 Z" fill="#f7d2b2" stroke="#a8996a" stroke-width="2.2"/>
<path d="M547.4,1079.1 C548.5,1075.6 550.8,1069.2 556.4,1064.3 C562.0,1059.4 572.3,1054.2 581.1,1049.5 C589.9,1044.8 601.1,1040.5 609.0,1036.4 C616.9,1032.3 623.2,1027.4 628.7,1024.9 C634.2,1022.4 637.5,1021.8 641.9,1021.6 C646.3,1021.5 651.9,1022.6 655.0,1024.0 C658.1,1025.4 659.8,1027.8 660.8,1029.8 C661.8,1031.8 661.4,1034.3 661.0,1036.0 C660.6,1037.7 660.7,1037.5 658.3,1040.0 C655.9,1042.5 652.8,1046.3 646.8,1051.2 C640.8,1056.1 631.8,1063.7 622.2,1069.2 C612.6,1074.7 599.7,1080.8 589.3,1084.0 C578.9,1087.2 566.3,1088.4 559.7,1088.6 C553.1,1088.8 551.5,1086.6 549.5,1085.0 C547.5,1083.4 546.2,1082.5 547.4,1079.1 Z" fill="#fbfbfa" stroke="#a8996a" stroke-width="1.4"/>
<defs><linearGradient id="mb" x1="0" y1="1" x2="0" y2="0"><stop offset="0" stop-color="#4a8bd0"/><stop offset="1" stop-color="#8ebdec"/></linearGradient></defs>
<defs><clipPath id="mclip"><path d="M547.4,1079.1 C548.5,1075.6 550.8,1069.2 556.4,1064.3 C562.0,1059.4 572.3,1054.2 581.1,1049.5 C589.9,1044.8 601.1,1040.5 609.0,1036.4 C616.9,1032.3 623.2,1027.4 628.7,1024.9 C634.2,1022.4 637.5,1021.8 641.9,1021.6 C646.3,1021.5 651.9,1022.6 655.0,1024.0 C658.1,1025.4 659.8,1027.8 660.8,1029.8 C661.8,1031.8 661.4,1034.3 661.0,1036.0 C660.6,1037.7 660.7,1037.5 658.3,1040.0 C655.9,1042.5 652.8,1046.3 646.8,1051.2 C640.8,1056.1 631.8,1063.7 622.2,1069.2 C612.6,1074.7 599.7,1080.8 589.3,1084.0 C578.9,1087.2 566.3,1088.4 559.7,1088.6 C553.1,1088.8 551.5,1086.6 549.5,1085.0 C547.5,1083.4 546.2,1082.5 547.4,1079.1 Z"/></clipPath></defs>
<g clip-path="url(#mclip)"><g transform="translate(604,1056) rotate(-28)"><path d="M-53,5 L-53,-6 L-38.5,-6 L-38.5,5 L-24,5 L-24,-6 L-9.5,-6 L-9.5,5 L5,5 L5,-6 L19.5,-6 L19.5,5 L34,5 L34,-6 L48.5,-6 L48.5,5" fill="none" stroke="#b9b7a8" stroke-width="13" stroke-linejoin="round" stroke-linecap="round" opacity="0.5" transform="translate(0.6,1)"/><path d="M-53,5 L-53,-6 L-38.5,-6 L-38.5,5 L-24,5 L-24,-6 L-9.5,-6 L-9.5,5 L5,5 L5,-6 L19.5,-6 L19.5,5 L34,5 L34,-6 L48.5,-6 L48.5,5" fill="none" stroke="url(#mb)" stroke-width="12" stroke-linejoin="round" stroke-linecap="round"/></g></g>
<path d="M547.4,1079.1 C548.5,1075.6 550.8,1069.2 556.4,1064.3 C562.0,1059.4 572.3,1054.2 581.1,1049.5 C589.9,1044.8 601.1,1040.5 609.0,1036.4 C616.9,1032.3 623.2,1027.4 628.7,1024.9 C634.2,1022.4 637.5,1021.8 641.9,1021.6 C646.3,1021.5 651.9,1022.6 655.0,1024.0 C658.1,1025.4 659.8,1027.8 660.8,1029.8 C661.8,1031.8 661.4,1034.3 661.0,1036.0 C660.6,1037.7 660.7,1037.5 658.3,1040.0 C655.9,1042.5 652.8,1046.3 646.8,1051.2 C640.8,1056.1 631.8,1063.7 622.2,1069.2 C612.6,1074.7 599.7,1080.8 589.3,1084.0 C578.9,1087.2 566.3,1088.4 559.7,1088.6 C553.1,1088.8 551.5,1086.6 549.5,1085.0 C547.5,1083.4 546.2,1082.5 547.4,1079.1 Z" fill="none" stroke="#a8996a" stroke-width="1.4"/>
<path d="M588.0,1160.0 L592.0,1146.0 L599.0,1137.0 L610.5,1130.3 L626.7,1127.3 L626.0,1133.0 L623.0,1136.0 L624.5,1140.0 L621.0,1142.0 L620.5,1146.5 L616.5,1146.0 L614.5,1150.5 L610.5,1149.0 L608.5,1153.5 L604.0,1151.0 L601.0,1155.5 L597.0,1153.0 L594.0,1157.5 L591.0,1156.0 Z" fill="#f8c8a0" stroke="#a8996a" stroke-width="1" stroke-linejoin="round"/>
<path d="M586.7,1159.7 C588.1,1156.5 591.8,1145.4 595.3,1140.5 C598.8,1135.6 602.4,1132.7 607.5,1130.3 C612.6,1127.9 622.7,1127.0 625.7,1126.3" fill="none" stroke="#a8996a" stroke-width="4.2" stroke-linecap="round"/>
<path d="M581.2,1160.7 C582.2,1157.7 583.6,1147.9 587.3,1142.5 C591.0,1137.1 596.3,1131.7 603.4,1128.3 C610.5,1124.9 625.3,1123.3 629.7,1122.3" fill="none" stroke="#a8996a" stroke-width="4.8" stroke-linecap="round"/>
<path d="M574.1,1154.6 C575.1,1152.6 576.3,1147.2 580.2,1142.5 C584.1,1137.8 591.5,1130.3 597.4,1126.3 C603.3,1122.2 609.9,1119.5 615.6,1118.2 C621.3,1116.9 629.1,1118.2 631.8,1118.2" fill="none" stroke="#a8996a" stroke-width="5.4" stroke-linecap="round"/>
<path d="M572.1,1146.5 C573.3,1144.3 575.3,1137.8 579.2,1133.4 C583.1,1129.0 591.3,1123.4 595.3,1120.2 C599.3,1117.0 602.0,1115.2 603.4,1114.2" fill="none" stroke="#a8996a" stroke-width="5.2" stroke-linecap="round"/>
<path d="M586.7,1159.7 C588.1,1156.5 591.8,1145.4 595.3,1140.5 C598.8,1135.6 602.4,1132.7 607.5,1130.3 C612.6,1127.9 622.7,1127.0 625.7,1126.3" fill="none" stroke="#5f9edb" stroke-width="2.4" stroke-linecap="round"/>
<path d="M581.2,1160.7 C582.2,1157.7 583.6,1147.9 587.3,1142.5 C591.0,1137.1 596.3,1131.7 603.4,1128.3 C610.5,1124.9 625.3,1123.3 629.7,1122.3" fill="none" stroke="#5f9edb" stroke-width="3.0" stroke-linecap="round"/>
<path d="M574.1,1154.6 C575.1,1152.6 576.3,1147.2 580.2,1142.5 C584.1,1137.8 591.5,1130.3 597.4,1126.3 C603.3,1122.2 609.9,1119.5 615.6,1118.2 C621.3,1116.9 629.1,1118.2 631.8,1118.2" fill="none" stroke="#5f9edb" stroke-width="3.6" stroke-linecap="round"/>
<path d="M572.1,1146.5 C573.3,1144.3 575.3,1137.8 579.2,1133.4 C583.1,1129.0 591.3,1123.4 595.3,1120.2 C599.3,1117.0 602.0,1115.2 603.4,1114.2" fill="none" stroke="#5f9edb" stroke-width="3.4" stroke-linecap="round"/>
<path d="M577.0,1134.0 C577.3,1133.0 582.2,1127.3 585.0,1125.0 C587.8,1122.7 593.0,1120.0 594.0,1120.0 C595.0,1120.0 592.8,1123.2 591.0,1125.0 C589.2,1126.8 585.3,1129.5 583.0,1131.0 C580.7,1132.5 576.7,1135.0 577.0,1134.0 Z" fill="#dfe5c9" stroke="#a8996a" stroke-width="0.8"/>
<path d="M626.0,1114.0 C625.5,1112.5 625.8,1109.2 627.0,1108.0 C628.2,1106.8 631.2,1106.3 633.0,1106.5 C634.8,1106.7 636.9,1107.6 637.5,1109.0 C638.1,1110.4 637.8,1113.7 636.5,1115.0 C635.2,1116.3 631.8,1117.2 630.0,1117.0 C628.2,1116.8 626.5,1115.5 626.0,1114.0 Z" fill="#9cc6f0" stroke="#a8996a" stroke-width="1"/>
<path d="M611.0,1121.0 C611.3,1120.0 618.7,1117.6 622.0,1117.0 C625.3,1116.4 629.3,1116.8 631.0,1117.5 C632.7,1118.2 633.8,1120.1 632.0,1121.0 C630.2,1121.9 623.5,1123.0 620.0,1123.0 C616.5,1123.0 610.7,1122.0 611.0,1121.0 Z" fill="#9cc6f0" stroke="#a8996a" stroke-width="0.8"/>
<g fill="#f8c8a0" stroke="#a8996a" stroke-width="0.9"><circle cx="588.5" cy="1164" r="2.2"/><circle cx="597" cy="1166.5" r="2.4"/><circle cx="630.5" cy="1132.5" r="1.9"/><circle cx="632" cy="1138" r="2.3"/><circle cx="626" cy="1146.5" r="2.1"/><circle cx="636" cy="1150" r="2.6"/></g>
<g fill="#5f9edb" stroke="#a8996a" stroke-width="0.9"><ellipse cx="608.7" cy="1105.5" rx="2.3" ry="2.5"/><ellipse cx="571" cy="1135" rx="1.6" ry="2.8"/></g>
<path d="M622.2,1179.8 C624.0,1176.8 628.2,1175.2 632.0,1174.9 C635.8,1174.6 640.8,1175.9 645.2,1178.1 C649.6,1180.3 655.4,1184.4 658.3,1188.0 C661.2,1191.6 662.4,1195.7 662.4,1199.5 C662.4,1203.3 661.2,1208.3 658.3,1211.0 C655.4,1213.7 649.6,1215.4 645.2,1215.9 C640.8,1216.5 635.6,1215.9 632.0,1214.3 C628.4,1212.7 625.6,1209.7 623.8,1206.1 C622.0,1202.5 621.6,1197.3 621.3,1192.9 C621.0,1188.5 620.4,1182.8 622.2,1179.8 Z" fill="#5f9edb" stroke="#a8996a" stroke-width="1.2"/>
<path d="M623.8,1183.1 C625.4,1181.7 630.1,1178.4 633.7,1178.1 C637.3,1177.8 641.4,1179.2 645.2,1181.4 C649.0,1183.6 654.2,1188.0 656.7,1191.3 C659.2,1194.6 660.3,1198.7 660.0,1201.2 C659.7,1203.7 658.0,1205.8 655.0,1206.1 C652.0,1206.4 646.3,1205.0 641.9,1202.8 C637.5,1200.6 631.7,1195.6 628.7,1192.9 C625.7,1190.2 624.6,1188.0 623.8,1186.4 C623.0,1184.8 622.1,1184.5 623.8,1183.1 Z" fill="#f8d3b4" stroke="#a8996a" stroke-width="0.9"/>
<path d="M629,1184 L633,1182 L631,1188 L636,1185 L637,1192 L641,1187 L643,1196 L647,1190 L649,1199 L653,1196" fill="none" stroke="#5f9edb" stroke-width="1.3" stroke-linejoin="round"/>
<path d="M547.4,1198.7 C548.1,1199.2 550.7,1200.4 551.5,1202.0 C552.3,1203.6 551.5,1206.5 552.3,1208.5 C553.1,1210.5 554.3,1212.8 556.4,1214.3 C558.5,1215.8 562.2,1217.3 564.7,1217.6 C567.2,1217.9 569.8,1217.0 571.2,1215.9 C572.6,1214.8 573.0,1212.5 572.9,1211.0 C572.8,1209.5 570.5,1205.8 570.5,1207.0 C570.5,1208.2 572.4,1215.0 573.0,1218.0 C573.6,1221.0 572.0,1224.3 574.0,1225.0 C576.0,1225.7 581.6,1223.2 585.0,1222.0 C588.4,1220.8 591.4,1217.9 594.2,1217.6 C597.0,1217.3 599.5,1218.9 602.0,1220.0 C604.5,1221.1 606.2,1222.7 609.0,1224.2 C611.8,1225.7 616.7,1229.4 618.9,1229.1 C621.1,1228.8 622.7,1225.0 622.2,1222.5 C621.7,1220.0 618.4,1217.1 616.0,1214.0 C613.6,1210.9 610.0,1207.5 608.0,1204.0 C606.0,1200.5 604.7,1196.6 604.1,1192.9 C603.5,1189.2 604.0,1185.0 604.5,1182.0 C605.0,1179.0 605.7,1176.6 607.0,1175.0 C608.3,1173.4 609.8,1172.8 612.3,1172.4 C614.8,1172.0 618.9,1171.2 622.2,1172.4 C625.5,1173.6 630.4,1178.6 632.0,1179.8" fill="none" stroke="#5f9edb" stroke-width="1.5"/>
<g fill="#c8c9c9" stroke="#5f9edb" stroke-width="1.4">
<rect x="552.1" y="1208.8" width="7" height="6" rx="1.6" transform="rotate(30 555.6 1211.8)"/>
<rect x="566.6" y="1204.0" width="7.5" height="7.5" rx="1.6" transform="rotate(30 570.4 1207.7)"/>
<rect x="568.0" y="1222.0" width="8" height="6" rx="1.6" transform="rotate(30 572 1225)"/>
<rect x="602.5" y="1197.0" width="6.5" height="6.5" rx="1.6" transform="rotate(30 605.7 1200.3)"/>
<rect x="605.8" y="1202.8" width="6.5" height="6.5" rx="1.6" transform="rotate(30 609 1206.1)"/>
<rect x="609.0" y="1209.5" width="6.5" height="6.5" rx="1.6" transform="rotate(30 612.3 1212.7)"/>
<rect x="614.2" y="1212.9" width="6" height="6" rx="1.6" transform="rotate(30 617.2 1215.9)"/>
<rect x="617.8" y="1217.9" width="5.5" height="6" rx="1.6" transform="rotate(30 620.5 1220.9)"/>
<rect x="604.4" y="1208.8" width="6" height="6" rx="1.6" transform="rotate(30 607.4 1211.8)"/>
<rect x="611.0" y="1216.2" width="6" height="6" rx="1.6" transform="rotate(30 614 1219.2)"/>
</g>
</svg>
</body></html>
